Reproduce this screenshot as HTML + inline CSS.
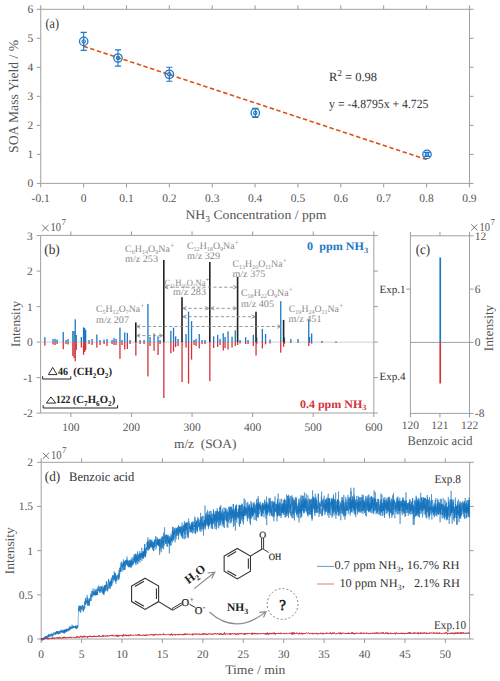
<!DOCTYPE html>
<html><head><meta charset="utf-8"><style>
html,body{margin:0;padding:0;background:#fff;width:500px;height:681px;overflow:hidden}
svg{display:block;font-family:"Liberation Serif", serif;text-rendering:geometricPrecision}
</style></head><body>
<svg width="500" height="681" viewBox="0 0 500 681">
<rect width="500" height="681" fill="#fff"/>
<path d="M40.75 9.3H469.5V183.4H40.75Z" fill="none" stroke="#a0a0a0" stroke-width="1"/>
<line x1="40.73" y1="183.40" x2="40.73" y2="187.40" stroke="#9a9a9a" stroke-width="1" />
<line x1="40.73" y1="9.30" x2="40.73" y2="5.30" stroke="#9a9a9a" stroke-width="1" />
<text x="40.73" y="202.20" font-size="11.5" text-anchor="middle" fill="#555555" font-weight="normal" >-0.1</text>
<line x1="83.60" y1="183.40" x2="83.60" y2="187.40" stroke="#9a9a9a" stroke-width="1" />
<line x1="83.60" y1="9.30" x2="83.60" y2="5.30" stroke="#9a9a9a" stroke-width="1" />
<text x="83.60" y="202.20" font-size="11.5" text-anchor="middle" fill="#555555" font-weight="normal" >0</text>
<line x1="126.47" y1="183.40" x2="126.47" y2="187.40" stroke="#9a9a9a" stroke-width="1" />
<line x1="126.47" y1="9.30" x2="126.47" y2="5.30" stroke="#9a9a9a" stroke-width="1" />
<text x="126.47" y="202.20" font-size="11.5" text-anchor="middle" fill="#555555" font-weight="normal" >0.1</text>
<line x1="169.34" y1="183.40" x2="169.34" y2="187.40" stroke="#9a9a9a" stroke-width="1" />
<line x1="169.34" y1="9.30" x2="169.34" y2="5.30" stroke="#9a9a9a" stroke-width="1" />
<text x="169.34" y="202.20" font-size="11.5" text-anchor="middle" fill="#555555" font-weight="normal" >0.2</text>
<line x1="212.21" y1="183.40" x2="212.21" y2="187.40" stroke="#9a9a9a" stroke-width="1" />
<line x1="212.21" y1="9.30" x2="212.21" y2="5.30" stroke="#9a9a9a" stroke-width="1" />
<text x="212.21" y="202.20" font-size="11.5" text-anchor="middle" fill="#555555" font-weight="normal" >0.3</text>
<line x1="255.08" y1="183.40" x2="255.08" y2="187.40" stroke="#9a9a9a" stroke-width="1" />
<line x1="255.08" y1="9.30" x2="255.08" y2="5.30" stroke="#9a9a9a" stroke-width="1" />
<text x="255.08" y="202.20" font-size="11.5" text-anchor="middle" fill="#555555" font-weight="normal" >0.4</text>
<line x1="297.95" y1="183.40" x2="297.95" y2="187.40" stroke="#9a9a9a" stroke-width="1" />
<line x1="297.95" y1="9.30" x2="297.95" y2="5.30" stroke="#9a9a9a" stroke-width="1" />
<text x="297.95" y="202.20" font-size="11.5" text-anchor="middle" fill="#555555" font-weight="normal" >0.5</text>
<line x1="340.82" y1="183.40" x2="340.82" y2="187.40" stroke="#9a9a9a" stroke-width="1" />
<line x1="340.82" y1="9.30" x2="340.82" y2="5.30" stroke="#9a9a9a" stroke-width="1" />
<text x="340.82" y="202.20" font-size="11.5" text-anchor="middle" fill="#555555" font-weight="normal" >0.6</text>
<line x1="383.69" y1="183.40" x2="383.69" y2="187.40" stroke="#9a9a9a" stroke-width="1" />
<line x1="383.69" y1="9.30" x2="383.69" y2="5.30" stroke="#9a9a9a" stroke-width="1" />
<text x="383.69" y="202.20" font-size="11.5" text-anchor="middle" fill="#555555" font-weight="normal" >0.7</text>
<line x1="426.56" y1="183.40" x2="426.56" y2="187.40" stroke="#9a9a9a" stroke-width="1" />
<line x1="426.56" y1="9.30" x2="426.56" y2="5.30" stroke="#9a9a9a" stroke-width="1" />
<text x="426.56" y="202.20" font-size="11.5" text-anchor="middle" fill="#555555" font-weight="normal" >0.8</text>
<line x1="469.43" y1="183.40" x2="469.43" y2="187.40" stroke="#9a9a9a" stroke-width="1" />
<line x1="469.43" y1="9.30" x2="469.43" y2="5.30" stroke="#9a9a9a" stroke-width="1" />
<text x="469.43" y="202.20" font-size="11.5" text-anchor="middle" fill="#555555" font-weight="normal" >0.9</text>
<line x1="40.75" y1="183.40" x2="36.75" y2="183.40" stroke="#9a9a9a" stroke-width="1" />
<line x1="469.50" y1="183.40" x2="473.50" y2="183.40" stroke="#9a9a9a" stroke-width="1" />
<text x="33.20" y="187.30" font-size="11.5" text-anchor="end" fill="#555555" font-weight="normal" >0</text>
<line x1="40.75" y1="154.38" x2="36.75" y2="154.38" stroke="#9a9a9a" stroke-width="1" />
<line x1="469.50" y1="154.38" x2="473.50" y2="154.38" stroke="#9a9a9a" stroke-width="1" />
<text x="33.20" y="158.28" font-size="11.5" text-anchor="end" fill="#555555" font-weight="normal" >1</text>
<line x1="40.75" y1="125.36" x2="36.75" y2="125.36" stroke="#9a9a9a" stroke-width="1" />
<line x1="469.50" y1="125.36" x2="473.50" y2="125.36" stroke="#9a9a9a" stroke-width="1" />
<text x="33.20" y="129.26" font-size="11.5" text-anchor="end" fill="#555555" font-weight="normal" >2</text>
<line x1="40.75" y1="96.34" x2="36.75" y2="96.34" stroke="#9a9a9a" stroke-width="1" />
<line x1="469.50" y1="96.34" x2="473.50" y2="96.34" stroke="#9a9a9a" stroke-width="1" />
<text x="33.20" y="100.24" font-size="11.5" text-anchor="end" fill="#555555" font-weight="normal" >3</text>
<line x1="40.75" y1="67.32" x2="36.75" y2="67.32" stroke="#9a9a9a" stroke-width="1" />
<line x1="469.50" y1="67.32" x2="473.50" y2="67.32" stroke="#9a9a9a" stroke-width="1" />
<text x="33.20" y="71.22" font-size="11.5" text-anchor="end" fill="#555555" font-weight="normal" >4</text>
<line x1="40.75" y1="38.30" x2="36.75" y2="38.30" stroke="#9a9a9a" stroke-width="1" />
<line x1="469.50" y1="38.30" x2="473.50" y2="38.30" stroke="#9a9a9a" stroke-width="1" />
<text x="33.20" y="42.20" font-size="11.5" text-anchor="end" fill="#555555" font-weight="normal" >5</text>
<line x1="40.75" y1="9.28" x2="36.75" y2="9.28" stroke="#9a9a9a" stroke-width="1" />
<line x1="469.50" y1="9.28" x2="473.50" y2="9.28" stroke="#9a9a9a" stroke-width="1" />
<text x="33.20" y="13.18" font-size="11.5" text-anchor="end" fill="#555555" font-weight="normal" >6</text>
<text x="0.00" y="0.00" font-size="13.6" text-anchor="middle" fill="#555555" font-weight="normal" transform="translate(17.6,96.4) rotate(-90)" textLength="113" lengthAdjust="spacingAndGlyphs">SOA Mass Yield / %</text>
<text x="185.4" y="218.6" font-size="13" fill="#555555" textLength="141" lengthAdjust="spacingAndGlyphs">NH<tspan font-size="9" dy="3.8">3</tspan><tspan dy="-3.8"> Concentration / ppm</tspan></text>
<text x="45.60" y="27.90" font-size="14" text-anchor="start" fill="#333333" font-weight="normal" textLength="13.4" lengthAdjust="spacingAndGlyphs">(a)</text>
<text x="329.1" y="81.4" font-size="12.5" fill="#333333">R<tspan font-size="9" dy="-5.5">2</tspan><tspan dy="5.5"> = 0.98</tspan></text>
<text x="329.10" y="108.00" font-size="12.5" text-anchor="start" fill="#333333" font-weight="normal" textLength="99.4" lengthAdjust="spacingAndGlyphs">y = -4.8795x + 4.725</text>
<line x1="83.60" y1="46.28" x2="426.56" y2="159.56" stroke="#d95319" stroke-width="1.6" stroke-dasharray="4.4 2.6"/>
<g stroke="#1f77c4" fill="none" stroke-width="1.1"><path d="M83.7 32.4V50.4M80.60000000000001 32.4H86.8M80.60000000000001 50.4H86.8"/><circle cx="83.7" cy="41.4" r="4.2" stroke-width="1.3"/><circle cx="83.7" cy="41.4" r="1.7"/></g>
<g stroke="#1f77c4" fill="none" stroke-width="1.1"><path d="M118.0 49.9V66.1M114.9 49.9H121.1M114.9 66.1H121.1"/><circle cx="118.0" cy="58.0" r="4.2" stroke-width="1.3"/><circle cx="118.0" cy="58.0" r="1.7"/></g>
<g stroke="#1f77c4" fill="none" stroke-width="1.1"><path d="M169.3 67.3V81.3M166.20000000000002 67.3H172.4M166.20000000000002 81.3H172.4"/><circle cx="169.3" cy="74.3" r="4.2" stroke-width="1.3"/><circle cx="169.3" cy="74.3" r="1.7"/></g>
<g stroke="#1f77c4" fill="none" stroke-width="1.1"><path d="M255.3 108.4V117.4M252.20000000000002 108.4H258.40000000000003M252.20000000000002 117.4H258.40000000000003"/><circle cx="255.3" cy="112.9" r="4.2" stroke-width="1.3"/><circle cx="255.3" cy="112.9" r="1.7"/></g>
<g stroke="#1f77c4" fill="none" stroke-width="1.1"><path d="M427.0 152.4V156.4M423.9 152.4H430.1M423.9 156.4H430.1"/><circle cx="427.0" cy="154.4" r="4.2" stroke-width="1.3"/><circle cx="427.0" cy="154.4" r="1.7"/></g>
<path d="M40.6 235.4H373.8V413.0H40.6Z" fill="none" stroke="#a0a0a0" stroke-width="1"/>
<line x1="70.89" y1="413.00" x2="70.89" y2="417.00" stroke="#9a9a9a" stroke-width="1" />
<line x1="70.89" y1="235.40" x2="70.89" y2="231.40" stroke="#9a9a9a" stroke-width="1" />
<text x="70.89" y="431.20" font-size="11.5" text-anchor="middle" fill="#555555" font-weight="normal" >100</text>
<line x1="131.47" y1="413.00" x2="131.47" y2="417.00" stroke="#9a9a9a" stroke-width="1" />
<line x1="131.47" y1="235.40" x2="131.47" y2="231.40" stroke="#9a9a9a" stroke-width="1" />
<text x="131.47" y="431.20" font-size="11.5" text-anchor="middle" fill="#555555" font-weight="normal" >200</text>
<line x1="192.05" y1="413.00" x2="192.05" y2="417.00" stroke="#9a9a9a" stroke-width="1" />
<line x1="192.05" y1="235.40" x2="192.05" y2="231.40" stroke="#9a9a9a" stroke-width="1" />
<text x="192.05" y="431.20" font-size="11.5" text-anchor="middle" fill="#555555" font-weight="normal" >300</text>
<line x1="252.64" y1="413.00" x2="252.64" y2="417.00" stroke="#9a9a9a" stroke-width="1" />
<line x1="252.64" y1="235.40" x2="252.64" y2="231.40" stroke="#9a9a9a" stroke-width="1" />
<text x="252.64" y="431.20" font-size="11.5" text-anchor="middle" fill="#555555" font-weight="normal" >400</text>
<line x1="313.22" y1="413.00" x2="313.22" y2="417.00" stroke="#9a9a9a" stroke-width="1" />
<line x1="313.22" y1="235.40" x2="313.22" y2="231.40" stroke="#9a9a9a" stroke-width="1" />
<text x="313.22" y="431.20" font-size="11.5" text-anchor="middle" fill="#555555" font-weight="normal" >500</text>
<line x1="373.80" y1="413.00" x2="373.80" y2="417.00" stroke="#9a9a9a" stroke-width="1" />
<line x1="373.80" y1="235.40" x2="373.80" y2="231.40" stroke="#9a9a9a" stroke-width="1" />
<text x="373.80" y="431.20" font-size="11.5" text-anchor="middle" fill="#555555" font-weight="normal" >600</text>
<line x1="40.60" y1="413.10" x2="36.60" y2="413.10" stroke="#9a9a9a" stroke-width="1" />
<line x1="373.80" y1="413.10" x2="377.80" y2="413.10" stroke="#9a9a9a" stroke-width="1" />
<text x="32.80" y="417.00" font-size="11.5" text-anchor="end" fill="#555555" font-weight="normal" >-2</text>
<line x1="40.60" y1="377.60" x2="36.60" y2="377.60" stroke="#9a9a9a" stroke-width="1" />
<line x1="373.80" y1="377.60" x2="377.80" y2="377.60" stroke="#9a9a9a" stroke-width="1" />
<text x="32.80" y="381.50" font-size="11.5" text-anchor="end" fill="#555555" font-weight="normal" >-1</text>
<line x1="40.60" y1="342.10" x2="36.60" y2="342.10" stroke="#9a9a9a" stroke-width="1" />
<line x1="373.80" y1="342.10" x2="377.80" y2="342.10" stroke="#9a9a9a" stroke-width="1" />
<text x="32.80" y="346.00" font-size="11.5" text-anchor="end" fill="#555555" font-weight="normal" >0</text>
<line x1="40.60" y1="306.60" x2="36.60" y2="306.60" stroke="#9a9a9a" stroke-width="1" />
<line x1="373.80" y1="306.60" x2="377.80" y2="306.60" stroke="#9a9a9a" stroke-width="1" />
<text x="32.80" y="310.50" font-size="11.5" text-anchor="end" fill="#555555" font-weight="normal" >1</text>
<line x1="40.60" y1="271.10" x2="36.60" y2="271.10" stroke="#9a9a9a" stroke-width="1" />
<line x1="373.80" y1="271.10" x2="377.80" y2="271.10" stroke="#9a9a9a" stroke-width="1" />
<text x="32.80" y="275.00" font-size="11.5" text-anchor="end" fill="#555555" font-weight="normal" >2</text>
<line x1="40.60" y1="235.60" x2="36.60" y2="235.60" stroke="#9a9a9a" stroke-width="1" />
<line x1="373.80" y1="235.60" x2="377.80" y2="235.60" stroke="#9a9a9a" stroke-width="1" />
<text x="32.80" y="239.50" font-size="11.5" text-anchor="end" fill="#555555" font-weight="normal" >3</text>
<path d="M42.3 225.0L48.5 231.0M48.5 225.0L42.3 231.0" stroke="#555555" stroke-width="0.8"/><text x="50.599999999999994" y="231.3" font-size="12" fill="#555555" textLength="10.5" lengthAdjust="spacingAndGlyphs">10</text><text x="61.599999999999994" y="225.2" font-size="9" fill="#555555">7</text>
<text x="0.00" y="0.00" font-size="13" text-anchor="middle" fill="#555555" font-weight="normal" transform="translate(20.3,324) rotate(-90)" textLength="46" lengthAdjust="spacingAndGlyphs">Intensity</text>
<text x="174.00" y="448.00" font-size="13" text-anchor="start" fill="#555555" font-weight="normal" textLength="62.4" lengthAdjust="spacingAndGlyphs">m/z&#160;&#160;(SOA)</text>
<text x="44.20" y="253.80" font-size="14" text-anchor="start" fill="#333333" font-weight="normal" textLength="15.6" lengthAdjust="spacingAndGlyphs">(b)</text>
<line x1="40.60" y1="342.10" x2="373.80" y2="342.10" stroke="#c0c4cc" stroke-width="0.8" />
<rect x="44.20" y="337.20" width="1.3" height="4.90" fill="#1f77c4"/>
<rect x="44.20" y="342.1" width="1.3" height="3.60" fill="#d3343c"/>
<rect x="52.40" y="339.00" width="1.3" height="3.10" fill="#1f77c4"/>
<rect x="52.40" y="342.1" width="1.3" height="2.40" fill="#d3343c"/>
<rect x="54.40" y="338.80" width="1.3" height="3.30" fill="#1f77c4"/>
<rect x="54.40" y="342.1" width="1.3" height="2.90" fill="#d3343c"/>
<rect x="56.40" y="339.50" width="1.3" height="2.60" fill="#1f77c4"/>
<rect x="56.40" y="342.1" width="1.3" height="1.90" fill="#d3343c"/>
<rect x="62.60" y="331.90" width="1.3" height="10.20" fill="#1f77c4"/>
<rect x="62.60" y="342.1" width="1.3" height="7.10" fill="#d3343c"/>
<rect x="65.40" y="340.00" width="1.3" height="2.10" fill="#1f77c4"/>
<rect x="65.40" y="342.1" width="1.3" height="1.90" fill="#d3343c"/>
<rect x="67.40" y="339.00" width="1.3" height="3.10" fill="#1f77c4"/>
<rect x="67.40" y="342.1" width="1.3" height="2.40" fill="#d3343c"/>
<rect x="72.20" y="331.00" width="1.3" height="11.10" fill="#1f77c4"/>
<rect x="72.20" y="342.1" width="1.3" height="13.90" fill="#d3343c"/>
<rect x="73.40" y="331.00" width="1.3" height="11.10" fill="#1f77c4"/>
<rect x="73.40" y="342.1" width="1.3" height="15.90" fill="#d3343c"/>
<rect x="74.60" y="319.30" width="1.3" height="22.80" fill="#1f77c4"/>
<rect x="74.60" y="342.1" width="1.3" height="19.10" fill="#d3343c"/>
<rect x="75.60" y="335.00" width="1.3" height="7.10" fill="#1f77c4"/>
<rect x="75.60" y="342.1" width="1.3" height="7.90" fill="#d3343c"/>
<rect x="80.70" y="337.00" width="1.3" height="5.10" fill="#1f77c4"/>
<rect x="80.70" y="342.1" width="1.3" height="5.50" fill="#d3343c"/>
<rect x="82.90" y="327.30" width="1.3" height="14.80" fill="#1f77c4"/>
<rect x="82.90" y="342.1" width="1.3" height="12.70" fill="#d3343c"/>
<rect x="84.00" y="328.00" width="1.3" height="14.10" fill="#1f77c4"/>
<rect x="84.00" y="342.1" width="1.3" height="9.90" fill="#d3343c"/>
<rect x="85.00" y="330.00" width="1.3" height="12.10" fill="#1f77c4"/>
<rect x="85.00" y="342.1" width="1.3" height="7.90" fill="#d3343c"/>
<rect x="88.40" y="340.00" width="1.3" height="2.10" fill="#1f77c4"/>
<rect x="88.40" y="342.1" width="1.3" height="1.90" fill="#d3343c"/>
<rect x="91.40" y="339.00" width="1.3" height="3.10" fill="#1f77c4"/>
<rect x="91.40" y="342.1" width="1.3" height="2.90" fill="#d3343c"/>
<rect x="96.20" y="334.50" width="1.3" height="7.60" fill="#1f77c4"/>
<rect x="96.20" y="342.1" width="1.3" height="5.50" fill="#d3343c"/>
<rect x="99.40" y="340.00" width="1.3" height="2.10" fill="#1f77c4"/>
<rect x="99.40" y="342.1" width="1.3" height="2.90" fill="#d3343c"/>
<rect x="103.40" y="339.50" width="1.3" height="2.60" fill="#1f77c4"/>
<rect x="103.40" y="342.1" width="1.3" height="1.90" fill="#d3343c"/>
<rect x="106.40" y="339.00" width="1.3" height="3.10" fill="#1f77c4"/>
<rect x="106.40" y="342.1" width="1.3" height="3.90" fill="#d3343c"/>
<rect x="111.40" y="340.00" width="1.3" height="2.10" fill="#1f77c4"/>
<rect x="111.40" y="342.1" width="1.3" height="1.90" fill="#d3343c"/>
<rect x="113.40" y="338.00" width="1.3" height="4.10" fill="#1f77c4"/>
<rect x="113.40" y="342.1" width="1.3" height="2.90" fill="#d3343c"/>
<rect x="115.40" y="339.00" width="1.3" height="3.10" fill="#1f77c4"/>
<rect x="115.40" y="342.1" width="1.3" height="2.90" fill="#d3343c"/>
<rect x="119.30" y="327.60" width="1.3" height="14.50" fill="#1f77c4"/>
<rect x="119.30" y="342.1" width="1.3" height="16.70" fill="#d3343c"/>
<rect x="121.40" y="340.00" width="1.3" height="2.10" fill="#1f77c4"/>
<rect x="121.40" y="342.1" width="1.3" height="2.90" fill="#d3343c"/>
<rect x="124.10" y="332.40" width="1.3" height="9.70" fill="#1f77c4"/>
<rect x="124.10" y="342.1" width="1.3" height="7.40" fill="#d3343c"/>
<rect x="126.70" y="332.90" width="1.3" height="9.20" fill="#1f77c4"/>
<rect x="126.70" y="342.1" width="1.3" height="6.90" fill="#d3343c"/>
<rect x="129.40" y="340.00" width="1.3" height="2.10" fill="#1f77c4"/>
<rect x="129.40" y="342.1" width="1.3" height="1.90" fill="#d3343c"/>
<rect x="139.40" y="340.00" width="1.3" height="2.10" fill="#1f77c4"/>
<rect x="139.40" y="342.1" width="1.3" height="1.90" fill="#d3343c"/>
<rect x="143.40" y="340.00" width="1.3" height="2.10" fill="#1f77c4"/>
<rect x="143.40" y="342.1" width="1.3" height="1.90" fill="#d3343c"/>
<rect x="147.30" y="303.90" width="1.3" height="38.20" fill="#1f77c4"/>
<rect x="147.30" y="342.1" width="1.3" height="34.30" fill="#d3343c"/>
<rect x="149.40" y="337.00" width="1.3" height="5.10" fill="#1f77c4"/>
<rect x="149.40" y="342.1" width="1.3" height="3.90" fill="#d3343c"/>
<rect x="153.40" y="333.50" width="1.3" height="8.60" fill="#1f77c4"/>
<rect x="153.40" y="342.1" width="1.3" height="8.70" fill="#d3343c"/>
<rect x="157.40" y="336.40" width="1.3" height="5.70" fill="#1f77c4"/>
<rect x="157.40" y="342.1" width="1.3" height="12.90" fill="#d3343c"/>
<rect x="159.40" y="340.00" width="1.3" height="2.10" fill="#1f77c4"/>
<rect x="159.40" y="342.1" width="1.3" height="1.90" fill="#d3343c"/>
<rect x="170.20" y="330.80" width="1.3" height="11.30" fill="#1f77c4"/>
<rect x="170.20" y="342.1" width="1.3" height="11.10" fill="#d3343c"/>
<rect x="172.90" y="327.60" width="1.3" height="14.50" fill="#1f77c4"/>
<rect x="172.90" y="342.1" width="1.3" height="9.50" fill="#d3343c"/>
<rect x="175.00" y="336.40" width="1.3" height="5.70" fill="#1f77c4"/>
<rect x="175.00" y="342.1" width="1.3" height="4.90" fill="#d3343c"/>
<rect x="177.40" y="339.00" width="1.3" height="3.10" fill="#1f77c4"/>
<rect x="177.40" y="342.1" width="1.3" height="3.90" fill="#d3343c"/>
<rect x="185.40" y="334.00" width="1.3" height="8.10" fill="#1f77c4"/>
<rect x="185.40" y="342.1" width="1.3" height="5.50" fill="#d3343c"/>
<rect x="187.90" y="311.60" width="1.3" height="30.50" fill="#1f77c4"/>
<rect x="187.90" y="342.1" width="1.3" height="41.50" fill="#d3343c"/>
<rect x="190.90" y="321.20" width="1.3" height="20.90" fill="#1f77c4"/>
<rect x="190.90" y="342.1" width="1.3" height="17.50" fill="#d3343c"/>
<rect x="193.40" y="340.00" width="1.3" height="2.10" fill="#1f77c4"/>
<rect x="193.40" y="342.1" width="1.3" height="2.90" fill="#d3343c"/>
<rect x="195.40" y="338.80" width="1.3" height="3.30" fill="#1f77c4"/>
<rect x="195.40" y="342.1" width="1.3" height="3.90" fill="#d3343c"/>
<rect x="198.60" y="334.00" width="1.3" height="8.10" fill="#1f77c4"/>
<rect x="198.60" y="342.1" width="1.3" height="6.30" fill="#d3343c"/>
<rect x="201.40" y="340.00" width="1.3" height="2.10" fill="#1f77c4"/>
<rect x="201.40" y="342.1" width="1.3" height="1.90" fill="#d3343c"/>
<rect x="204.40" y="340.00" width="1.3" height="2.10" fill="#1f77c4"/>
<rect x="204.40" y="342.1" width="1.3" height="1.90" fill="#d3343c"/>
<rect x="213.00" y="336.40" width="1.3" height="5.70" fill="#1f77c4"/>
<rect x="213.00" y="342.1" width="1.3" height="5.90" fill="#d3343c"/>
<rect x="217.00" y="334.80" width="1.3" height="7.30" fill="#1f77c4"/>
<rect x="217.00" y="342.1" width="1.3" height="4.90" fill="#d3343c"/>
<rect x="219.40" y="339.00" width="1.3" height="3.10" fill="#1f77c4"/>
<rect x="219.40" y="342.1" width="1.3" height="2.90" fill="#d3343c"/>
<rect x="222.60" y="333.20" width="1.3" height="8.90" fill="#1f77c4"/>
<rect x="222.60" y="342.1" width="1.3" height="8.40" fill="#d3343c"/>
<rect x="224.40" y="337.00" width="1.3" height="5.10" fill="#1f77c4"/>
<rect x="224.40" y="342.1" width="1.3" height="5.90" fill="#d3343c"/>
<rect x="227.40" y="331.30" width="1.3" height="10.80" fill="#1f77c4"/>
<rect x="227.40" y="342.1" width="1.3" height="7.40" fill="#d3343c"/>
<rect x="231.40" y="336.70" width="1.3" height="5.40" fill="#1f77c4"/>
<rect x="231.40" y="342.1" width="1.3" height="5.50" fill="#d3343c"/>
<rect x="234.60" y="330.30" width="1.3" height="11.80" fill="#1f77c4"/>
<rect x="234.60" y="342.1" width="1.3" height="3.90" fill="#d3343c"/>
<rect x="239.40" y="340.00" width="1.3" height="2.10" fill="#1f77c4"/>
<rect x="239.40" y="342.1" width="1.3" height="1.40" fill="#d3343c"/>
<rect x="245.00" y="337.20" width="1.3" height="4.90" fill="#1f77c4"/>
<rect x="245.00" y="342.1" width="1.3" height="1.90" fill="#d3343c"/>
<rect x="247.40" y="340.00" width="1.3" height="2.10" fill="#1f77c4"/>
<rect x="247.40" y="342.1" width="1.3" height="1.90" fill="#d3343c"/>
<rect x="252.70" y="334.80" width="1.3" height="7.30" fill="#1f77c4"/>
<rect x="252.70" y="342.1" width="1.3" height="3.90" fill="#d3343c"/>
<rect x="256.10" y="337.50" width="1.3" height="4.60" fill="#1f77c4"/>
<rect x="256.10" y="342.1" width="1.3" height="1.90" fill="#d3343c"/>
<rect x="261.70" y="328.90" width="1.3" height="13.20" fill="#1f77c4"/>
<rect x="261.70" y="342.1" width="1.3" height="6.30" fill="#d3343c"/>
<rect x="264.90" y="334.00" width="1.3" height="8.10" fill="#1f77c4"/>
<rect x="264.90" y="342.1" width="1.3" height="2.30" fill="#d3343c"/>
<rect x="269.40" y="339.50" width="1.3" height="2.60" fill="#1f77c4"/>
<rect x="269.40" y="342.1" width="1.3" height="1.40" fill="#d3343c"/>
<rect x="280.10" y="301.20" width="1.3" height="40.90" fill="#1f77c4"/>
<rect x="280.10" y="342.1" width="1.3" height="10.60" fill="#d3343c"/>
<rect x="283.80" y="337.50" width="1.3" height="4.60" fill="#1f77c4"/>
<rect x="283.80" y="342.1" width="1.3" height="1.90" fill="#d3343c"/>
<rect x="290.20" y="339.00" width="1.3" height="3.10" fill="#1f77c4"/>
<rect x="290.20" y="342.1" width="1.3" height="0.90" fill="#d3343c"/>
<rect x="297.40" y="339.00" width="1.3" height="3.10" fill="#1f77c4"/>
<rect x="297.40" y="342.1" width="1.3" height="0.90" fill="#d3343c"/>
<rect x="308.10" y="319.30" width="1.3" height="22.80" fill="#1f77c4"/>
<rect x="308.10" y="342.1" width="1.3" height="3.90" fill="#d3343c"/>
<rect x="308.90" y="337.00" width="1.3" height="5.10" fill="#1f77c4"/>
<rect x="308.90" y="342.1" width="1.3" height="0.90" fill="#d3343c"/>
<rect x="311.00" y="333.50" width="1.3" height="8.60" fill="#1f77c4"/>
<rect x="311.00" y="342.1" width="1.3" height="1.50" fill="#d3343c"/>
<rect x="321.40" y="341.00" width="1.3" height="1.10" fill="#1f77c4"/>
<rect x="321.40" y="342.1" width="1.3" height="0.90" fill="#d3343c"/>
<rect x="335.40" y="341.50" width="1.3" height="0.60" fill="#1f77c4"/>
<rect x="335.40" y="342.1" width="1.3" height="0.90" fill="#d3343c"/>
<rect x="135.20" y="342.1" width="1.3" height="13.50" fill="#d3343c"/>
<rect x="135.00" y="322.40" width="1.6" height="19.70" fill="#222"/>
<rect x="163.20" y="342.1" width="1.3" height="55.90" fill="#d3343c"/>
<rect x="163.00" y="260.00" width="1.6" height="82.10" fill="#222"/>
<rect x="181.40" y="342.1" width="1.3" height="39.90" fill="#d3343c"/>
<rect x="181.20" y="297.20" width="1.6" height="44.90" fill="#222"/>
<rect x="209.20" y="342.1" width="1.3" height="39.10" fill="#d3343c"/>
<rect x="209.00" y="262.00" width="1.6" height="80.10" fill="#222"/>
<rect x="237.00" y="342.1" width="1.3" height="2.90" fill="#d3343c"/>
<rect x="236.80" y="277.00" width="1.6" height="65.10" fill="#222"/>
<rect x="255.40" y="342.1" width="1.3" height="13.50" fill="#d3343c"/>
<rect x="255.20" y="311.70" width="1.6" height="30.40" fill="#222"/>
<rect x="283.00" y="342.1" width="1.3" height="4.70" fill="#d3343c"/>
<rect x="282.80" y="319.90" width="1.6" height="22.20" fill="#222"/>
<line x1="164.80" y1="287.2" x2="236.60" y2="287.2" stroke="#8c8c8c" stroke-width="0.9" stroke-dasharray="3.2 2.2"/>
<path d="M168.30 285.4L164.80 287.2L168.30 289.0" fill="none" stroke="#8c8c8c" stroke-width="0.9"/>
<path d="M233.10 285.4L236.60 287.2L233.10 289.0" fill="none" stroke="#8c8c8c" stroke-width="0.9"/>
<line x1="183.00" y1="308.3" x2="208.80" y2="308.3" stroke="#8c8c8c" stroke-width="0.9" stroke-dasharray="3.2 2.2"/>
<path d="M186.50 306.5L183.00 308.3L186.50 310.1" fill="none" stroke="#8c8c8c" stroke-width="0.9"/>
<path d="M205.30 306.5L208.80 308.3L205.30 310.1" fill="none" stroke="#8c8c8c" stroke-width="0.9"/>
<line x1="210.80" y1="308.3" x2="236.60" y2="308.3" stroke="#8c8c8c" stroke-width="0.9" stroke-dasharray="3.2 2.2"/>
<path d="M214.30 306.5L210.80 308.3L214.30 310.1" fill="none" stroke="#8c8c8c" stroke-width="0.9"/>
<path d="M233.10 306.5L236.60 308.3L233.10 310.1" fill="none" stroke="#8c8c8c" stroke-width="0.9"/>
<line x1="183.00" y1="316.7" x2="255.00" y2="316.7" stroke="#8c8c8c" stroke-width="0.9" stroke-dasharray="3.2 2.2"/>
<path d="M186.50 314.9L183.00 316.7L186.50 318.5" fill="none" stroke="#8c8c8c" stroke-width="0.9"/>
<path d="M251.50 314.9L255.00 316.7L251.50 318.5" fill="none" stroke="#8c8c8c" stroke-width="0.9"/>
<line x1="136.80" y1="326.5" x2="281.00" y2="326.5" stroke="#8c8c8c" stroke-width="0.9" stroke-dasharray="3.2 2.2"/>
<path d="M140.30 324.7L136.80 326.5L140.30 328.3" fill="none" stroke="#8c8c8c" stroke-width="0.9"/>
<path d="M277.50 324.7L281.00 326.5L277.50 328.3" fill="none" stroke="#8c8c8c" stroke-width="0.9"/>
<line x1="136.80" y1="335.6" x2="162.80" y2="335.6" stroke="#8c8c8c" stroke-width="0.9" stroke-dasharray="3.2 2.2"/>
<path d="M140.30 333.8L136.80 335.6L140.30 337.40000000000003" fill="none" stroke="#8c8c8c" stroke-width="0.9"/>
<path d="M159.30 333.8L162.80 335.6L159.30 337.40000000000003" fill="none" stroke="#8c8c8c" stroke-width="0.9"/>
<text x="96" y="312" font-size="10" fill="#8a8a8a" textLength="48.6" lengthAdjust="spacingAndGlyphs"><tspan font-size="10.0" dy="0.00">C</tspan><tspan font-size="6.2" dy="2.20">5</tspan><tspan font-size="10.0" dy="-2.20">H</tspan><tspan font-size="6.2" dy="2.20">12</tspan><tspan font-size="10.0" dy="-2.20">O</tspan><tspan font-size="6.2" dy="2.20">7</tspan><tspan font-size="10.0" dy="-2.20">Na</tspan><tspan font-size="8.0" dy="-3.60">+</tspan></text>
<text x="96.00" y="322.80" font-size="10" text-anchor="start" fill="#8a8a8a" font-weight="normal" textLength="33" lengthAdjust="spacingAndGlyphs">m/z 207</text>
<text x="125" y="252" font-size="10" fill="#8a8a8a" textLength="49.4" lengthAdjust="spacingAndGlyphs"><tspan font-size="10.0" dy="0.00">C</tspan><tspan font-size="6.2" dy="2.20">6</tspan><tspan font-size="10.0" dy="-2.20">H</tspan><tspan font-size="6.2" dy="2.20">14</tspan><tspan font-size="10.0" dy="-2.20">O</tspan><tspan font-size="6.2" dy="2.20">9</tspan><tspan font-size="10.0" dy="-2.20">Na</tspan><tspan font-size="8.0" dy="-3.60">+</tspan></text>
<text x="125.00" y="262.00" font-size="10" text-anchor="start" fill="#8a8a8a" font-weight="normal" textLength="33" lengthAdjust="spacingAndGlyphs">m/z 253</text>
<text x="187" y="249" font-size="10" fill="#8a8a8a" textLength="52" lengthAdjust="spacingAndGlyphs"><tspan font-size="10.0" dy="0.00">C</tspan><tspan font-size="6.2" dy="2.20">12</tspan><tspan font-size="10.0" dy="-2.20">H</tspan><tspan font-size="6.2" dy="2.20">18</tspan><tspan font-size="10.0" dy="-2.20">O</tspan><tspan font-size="6.2" dy="2.20">9</tspan><tspan font-size="10.0" dy="-2.20">Na</tspan><tspan font-size="8.0" dy="-3.60">+</tspan></text>
<text x="187.00" y="259.40" font-size="10" text-anchor="start" fill="#8a8a8a" font-weight="normal" textLength="33" lengthAdjust="spacingAndGlyphs">m/z 329</text>
<text x="164.4" y="286" font-size="9.5" fill="#8a8a8a" textLength="45" lengthAdjust="spacingAndGlyphs"><tspan font-size="9.5" dy="0.00">C</tspan><tspan font-size="5.9" dy="2.20">11</tspan><tspan font-size="9.5" dy="-2.20">H</tspan><tspan font-size="5.9" dy="2.20">16</tspan><tspan font-size="9.5" dy="-2.20">O</tspan><tspan font-size="5.9" dy="2.20">7</tspan><tspan font-size="9.5" dy="-2.20">Na</tspan><tspan font-size="7.6" dy="-3.60">+</tspan></text>
<text x="173.00" y="294.60" font-size="10" text-anchor="start" fill="#8a8a8a" font-weight="normal" textLength="33" lengthAdjust="spacingAndGlyphs">m/z 283</text>
<text x="232.4" y="267" font-size="10" fill="#8a8a8a" textLength="54.6" lengthAdjust="spacingAndGlyphs"><tspan font-size="10.0" dy="0.00">C</tspan><tspan font-size="6.2" dy="2.20">13</tspan><tspan font-size="10.0" dy="-2.20">H</tspan><tspan font-size="6.2" dy="2.20">20</tspan><tspan font-size="10.0" dy="-2.20">O</tspan><tspan font-size="6.2" dy="2.20">11</tspan><tspan font-size="10.0" dy="-2.20">Na</tspan><tspan font-size="8.0" dy="-3.60">+</tspan></text>
<text x="232.40" y="277.00" font-size="10" text-anchor="start" fill="#8a8a8a" font-weight="normal" textLength="33" lengthAdjust="spacingAndGlyphs">m/z 375</text>
<text x="241" y="296" font-size="10" fill="#8a8a8a" textLength="52" lengthAdjust="spacingAndGlyphs"><tspan font-size="10.0" dy="0.00">C</tspan><tspan font-size="6.2" dy="2.20">18</tspan><tspan font-size="10.0" dy="-2.20">H</tspan><tspan font-size="6.2" dy="2.20">22</tspan><tspan font-size="10.0" dy="-2.20">O</tspan><tspan font-size="6.2" dy="2.20">9</tspan><tspan font-size="10.0" dy="-2.20">Na</tspan><tspan font-size="8.0" dy="-3.60">+</tspan></text>
<text x="241.00" y="307.00" font-size="10" text-anchor="start" fill="#8a8a8a" font-weight="normal" textLength="33" lengthAdjust="spacingAndGlyphs">m/z 405</text>
<text x="288.8" y="311.5" font-size="10" fill="#8a8a8a" textLength="54.5" lengthAdjust="spacingAndGlyphs"><tspan font-size="10.0" dy="0.00">C</tspan><tspan font-size="6.2" dy="2.20">19</tspan><tspan font-size="10.0" dy="-2.20">H</tspan><tspan font-size="6.2" dy="2.20">24</tspan><tspan font-size="10.0" dy="-2.20">O</tspan><tspan font-size="6.2" dy="2.20">11</tspan><tspan font-size="10.0" dy="-2.20">Na</tspan><tspan font-size="8.0" dy="-3.60">+</tspan></text>
<text x="288.50" y="321.50" font-size="10" text-anchor="start" fill="#8a8a8a" font-weight="normal" textLength="33" lengthAdjust="spacingAndGlyphs">m/z 451</text>
<text x="307.1" y="250.3" font-size="11.5" font-weight="bold" fill="#1f77c4" textLength="61" lengthAdjust="spacingAndGlyphs">0&#160;&#160;ppm NH<tspan font-size="8" dy="2.5">3</tspan></text>
<text x="299.9" y="407.5" font-size="11.5" font-weight="bold" fill="#d3343c" textLength="66.5" lengthAdjust="spacingAndGlyphs">0.4 ppm NH<tspan font-size="8" dy="2.5">3</tspan></text>
<path d="M48.4 374.6L52.70 367.4L57.0 374.6Z" fill="none" stroke="#222" stroke-width="0.95" stroke-linejoin="miter"/>
<text x="58.0" y="375.3" font-size="11" font-weight="bold" fill="#222" textLength="10" lengthAdjust="spacingAndGlyphs">46</text>
<text x="73.3" y="375.3" font-size="11" font-weight="bold" fill="#222" textLength="38.7" lengthAdjust="spacingAndGlyphs">(CH<tspan font-size="7.5" dy="2.5">2</tspan><tspan dy="-2.5">O</tspan><tspan font-size="7.5" dy="2.5">2</tspan><tspan dy="-2.5">)</tspan></text>
<path d="M42.6 376.2V379H70.8V376.2" fill="none" stroke="#222" stroke-width="1"/>
<path d="M46.4 403.1L51.00 396.9L55.6 403.1Z" fill="none" stroke="#222" stroke-width="0.95" stroke-linejoin="miter"/>
<text x="56.0" y="403.2" font-size="11" font-weight="bold" fill="#222" textLength="14.4" lengthAdjust="spacingAndGlyphs">122</text>
<text x="72.8" y="403.2" font-size="11" font-weight="bold" fill="#222" textLength="42.4" lengthAdjust="spacingAndGlyphs">(C<tspan font-size="7.5" dy="2.5">7</tspan><tspan dy="-2.5">H</tspan><tspan font-size="7.5" dy="2.5">6</tspan><tspan dy="-2.5">O</tspan><tspan font-size="7.5" dy="2.5">2</tspan><tspan dy="-2.5">)</tspan></text>
<path d="M43.2 405.2V408H117.6V405.2" fill="none" stroke="#222" stroke-width="1"/>
<path d="M410.4 235.8H469.5V413.4H410.4Z" fill="none" stroke="#a0a0a0" stroke-width="1"/>
<line x1="410.40" y1="413.40" x2="410.40" y2="417.40" stroke="#9a9a9a" stroke-width="1" />
<line x1="410.40" y1="235.80" x2="410.40" y2="231.80" stroke="#9a9a9a" stroke-width="1" />
<text x="410.40" y="429.20" font-size="11.5" text-anchor="middle" fill="#555555" font-weight="normal" >120</text>
<line x1="439.95" y1="413.40" x2="439.95" y2="417.40" stroke="#9a9a9a" stroke-width="1" />
<line x1="439.95" y1="235.80" x2="439.95" y2="231.80" stroke="#9a9a9a" stroke-width="1" />
<text x="439.95" y="429.20" font-size="11.5" text-anchor="middle" fill="#555555" font-weight="normal" >121</text>
<line x1="469.50" y1="413.40" x2="469.50" y2="417.40" stroke="#9a9a9a" stroke-width="1" />
<line x1="469.50" y1="235.80" x2="469.50" y2="231.80" stroke="#9a9a9a" stroke-width="1" />
<text x="469.50" y="429.20" font-size="11.5" text-anchor="middle" fill="#555555" font-weight="normal" >122</text>
<line x1="469.50" y1="235.84" x2="473.50" y2="235.84" stroke="#9a9a9a" stroke-width="1" />
<text x="474.80" y="239.74" font-size="11.5" text-anchor="start" fill="#555555" font-weight="normal" >12</text>
<line x1="469.50" y1="289.12" x2="473.50" y2="289.12" stroke="#9a9a9a" stroke-width="1" />
<text x="474.80" y="293.02" font-size="11.5" text-anchor="start" fill="#555555" font-weight="normal" >6</text>
<line x1="469.50" y1="342.40" x2="473.50" y2="342.40" stroke="#9a9a9a" stroke-width="1" />
<text x="474.80" y="346.30" font-size="11.5" text-anchor="start" fill="#555555" font-weight="normal" >0</text>
<line x1="469.50" y1="413.44" x2="473.50" y2="413.44" stroke="#9a9a9a" stroke-width="1" />
<text x="474.80" y="417.34" font-size="11.5" text-anchor="start" fill="#555555" font-weight="normal" >-8</text>
<line x1="410.40" y1="289.12" x2="406.40" y2="289.12" stroke="#9a9a9a" stroke-width="1" />
<text x="405.50" y="292.60" font-size="11" text-anchor="end" fill="#333333" font-weight="normal" >Exp.1</text>
<text x="405.50" y="379.80" font-size="11" text-anchor="end" fill="#333333" font-weight="normal" >Exp.4</text>
<line x1="410.40" y1="342.40" x2="469.50" y2="342.40" stroke="#a0a0a0" stroke-width="1" />
<rect x="439.4" y="257.5" width="1.7" height="84.90" fill="#1f77c4"/>
<rect x="439.4" y="342.4" width="1.7" height="41.10" fill="#d3343c"/>
<path d="M471.2 224.4L477.4 230.5M477.4 224.4L471.2 230.5" stroke="#555555" stroke-width="0.8"/><text x="479.5" y="230.8" font-size="12" fill="#555555" textLength="10.5" lengthAdjust="spacingAndGlyphs">10</text><text x="490.5" y="224.7" font-size="9" fill="#555555">7</text>
<text x="0.00" y="0.00" font-size="13" text-anchor="middle" fill="#555555" font-weight="normal" transform="translate(492.5,328) rotate(-90)" textLength="46.5" lengthAdjust="spacingAndGlyphs">Intensity</text>
<text x="407.60" y="445.00" font-size="13" text-anchor="start" fill="#555555" font-weight="normal" textLength="64.8" lengthAdjust="spacingAndGlyphs">Benzoic acid</text>
<text x="415.80" y="253.80" font-size="14" text-anchor="start" fill="#333333" font-weight="normal" textLength="14.4" lengthAdjust="spacingAndGlyphs">(c)</text>
<path d="M41.2 462.3H469.6V639.0H41.2Z" fill="none" stroke="#a0a0a0" stroke-width="1"/>
<line x1="41.20" y1="639.00" x2="41.20" y2="643.00" stroke="#9a9a9a" stroke-width="1" />
<line x1="41.20" y1="462.30" x2="41.20" y2="458.30" stroke="#9a9a9a" stroke-width="1" />
<text x="41.20" y="658.00" font-size="11.5" text-anchor="middle" fill="#555555" font-weight="normal" >0</text>
<line x1="81.62" y1="639.00" x2="81.62" y2="643.00" stroke="#9a9a9a" stroke-width="1" />
<line x1="81.62" y1="462.30" x2="81.62" y2="458.30" stroke="#9a9a9a" stroke-width="1" />
<text x="81.62" y="658.00" font-size="11.5" text-anchor="middle" fill="#555555" font-weight="normal" >5</text>
<line x1="122.03" y1="639.00" x2="122.03" y2="643.00" stroke="#9a9a9a" stroke-width="1" />
<line x1="122.03" y1="462.30" x2="122.03" y2="458.30" stroke="#9a9a9a" stroke-width="1" />
<text x="122.03" y="658.00" font-size="11.5" text-anchor="middle" fill="#555555" font-weight="normal" >10</text>
<line x1="162.45" y1="639.00" x2="162.45" y2="643.00" stroke="#9a9a9a" stroke-width="1" />
<line x1="162.45" y1="462.30" x2="162.45" y2="458.30" stroke="#9a9a9a" stroke-width="1" />
<text x="162.45" y="658.00" font-size="11.5" text-anchor="middle" fill="#555555" font-weight="normal" >15</text>
<line x1="202.86" y1="639.00" x2="202.86" y2="643.00" stroke="#9a9a9a" stroke-width="1" />
<line x1="202.86" y1="462.30" x2="202.86" y2="458.30" stroke="#9a9a9a" stroke-width="1" />
<text x="202.86" y="658.00" font-size="11.5" text-anchor="middle" fill="#555555" font-weight="normal" >20</text>
<line x1="243.28" y1="639.00" x2="243.28" y2="643.00" stroke="#9a9a9a" stroke-width="1" />
<line x1="243.28" y1="462.30" x2="243.28" y2="458.30" stroke="#9a9a9a" stroke-width="1" />
<text x="243.28" y="658.00" font-size="11.5" text-anchor="middle" fill="#555555" font-weight="normal" >25</text>
<line x1="283.69" y1="639.00" x2="283.69" y2="643.00" stroke="#9a9a9a" stroke-width="1" />
<line x1="283.69" y1="462.30" x2="283.69" y2="458.30" stroke="#9a9a9a" stroke-width="1" />
<text x="283.69" y="658.00" font-size="11.5" text-anchor="middle" fill="#555555" font-weight="normal" >30</text>
<line x1="324.11" y1="639.00" x2="324.11" y2="643.00" stroke="#9a9a9a" stroke-width="1" />
<line x1="324.11" y1="462.30" x2="324.11" y2="458.30" stroke="#9a9a9a" stroke-width="1" />
<text x="324.11" y="658.00" font-size="11.5" text-anchor="middle" fill="#555555" font-weight="normal" >35</text>
<line x1="364.52" y1="639.00" x2="364.52" y2="643.00" stroke="#9a9a9a" stroke-width="1" />
<line x1="364.52" y1="462.30" x2="364.52" y2="458.30" stroke="#9a9a9a" stroke-width="1" />
<text x="364.52" y="658.00" font-size="11.5" text-anchor="middle" fill="#555555" font-weight="normal" >40</text>
<line x1="404.94" y1="639.00" x2="404.94" y2="643.00" stroke="#9a9a9a" stroke-width="1" />
<line x1="404.94" y1="462.30" x2="404.94" y2="458.30" stroke="#9a9a9a" stroke-width="1" />
<text x="404.94" y="658.00" font-size="11.5" text-anchor="middle" fill="#555555" font-weight="normal" >45</text>
<line x1="445.35" y1="639.00" x2="445.35" y2="643.00" stroke="#9a9a9a" stroke-width="1" />
<line x1="445.35" y1="462.30" x2="445.35" y2="458.30" stroke="#9a9a9a" stroke-width="1" />
<text x="445.35" y="658.00" font-size="11.5" text-anchor="middle" fill="#555555" font-weight="normal" >50</text>
<line x1="41.20" y1="639.00" x2="37.20" y2="639.00" stroke="#9a9a9a" stroke-width="1" />
<line x1="469.60" y1="639.00" x2="473.60" y2="639.00" stroke="#9a9a9a" stroke-width="1" />
<text x="33.00" y="642.90" font-size="11.5" text-anchor="end" fill="#555555" font-weight="normal" >0</text>
<line x1="41.20" y1="594.83" x2="37.20" y2="594.83" stroke="#9a9a9a" stroke-width="1" />
<line x1="469.60" y1="594.83" x2="473.60" y2="594.83" stroke="#9a9a9a" stroke-width="1" />
<text x="33.00" y="598.73" font-size="11.5" text-anchor="end" fill="#555555" font-weight="normal" >0.5</text>
<line x1="41.20" y1="550.65" x2="37.20" y2="550.65" stroke="#9a9a9a" stroke-width="1" />
<line x1="469.60" y1="550.65" x2="473.60" y2="550.65" stroke="#9a9a9a" stroke-width="1" />
<text x="33.00" y="554.55" font-size="11.5" text-anchor="end" fill="#555555" font-weight="normal" >1</text>
<line x1="41.20" y1="506.48" x2="37.20" y2="506.48" stroke="#9a9a9a" stroke-width="1" />
<line x1="469.60" y1="506.48" x2="473.60" y2="506.48" stroke="#9a9a9a" stroke-width="1" />
<text x="33.00" y="510.38" font-size="11.5" text-anchor="end" fill="#555555" font-weight="normal" >1.5</text>
<line x1="41.20" y1="462.30" x2="37.20" y2="462.30" stroke="#9a9a9a" stroke-width="1" />
<line x1="469.60" y1="462.30" x2="473.60" y2="462.30" stroke="#9a9a9a" stroke-width="1" />
<text x="33.00" y="466.20" font-size="11.5" text-anchor="end" fill="#555555" font-weight="normal" >2</text>
<path d="M42.8 452.8L49.0 458.8M49.0 452.8L42.8 458.8" stroke="#555555" stroke-width="0.8"/><text x="51.099999999999994" y="459.1" font-size="12" fill="#555555" textLength="10.5" lengthAdjust="spacingAndGlyphs">10</text><text x="62.099999999999994" y="453.0" font-size="9" fill="#555555">7</text>
<text x="0.00" y="0.00" font-size="13" text-anchor="middle" fill="#555555" font-weight="normal" transform="translate(14.0,550.7) rotate(-90)" textLength="47" lengthAdjust="spacingAndGlyphs">Intensity</text>
<text x="225.20" y="673.60" font-size="13" text-anchor="start" fill="#555555" font-weight="normal" textLength="60.2" lengthAdjust="spacingAndGlyphs">Time / min</text>
<text x="44.80" y="481.30" font-size="14" text-anchor="start" fill="#333333" font-weight="normal" textLength="15.4" lengthAdjust="spacingAndGlyphs">(d)</text>
<text x="69.00" y="481.00" font-size="13" text-anchor="start" fill="#333333" font-weight="normal" textLength="65.4" lengthAdjust="spacingAndGlyphs">Benzoic acid</text>
<text x="434.40" y="483.00" font-size="12" text-anchor="start" fill="#333333" font-weight="normal" textLength="26.4" lengthAdjust="spacingAndGlyphs">Exp.8</text>
<text x="434.00" y="629.00" font-size="12" text-anchor="start" fill="#333333" font-weight="normal" textLength="32" lengthAdjust="spacingAndGlyphs">Exp.10</text>
<path d="M41.2 640.8 41.3 638.2 41.4 639.0 41.5 638.1 41.6 638.5 41.7 638.7 41.7 638.3 41.8 638.7 41.9 639.8 42.0 638.4 42.1 640.0 42.2 637.9 42.3 639.4 42.4 638.6 42.5 639.6 42.6 640.8 42.6 639.0 42.7 638.7 42.8 638.2 42.9 638.9 43.0 638.1 43.1 639.6 43.2 638.8 43.3 638.3 43.4 638.7 43.5 638.9 43.5 639.4 43.6 637.9 43.7 638.7 43.8 639.3 43.9 639.2 44.0 637.4 44.1 637.9 44.2 637.7 44.3 638.0 44.4 637.5 44.4 638.8 44.5 637.4 44.6 639.2 44.7 637.3 44.8 637.8 44.9 637.5 45.0 637.5 45.1 636.8 45.2 637.1 45.3 637.7 45.3 636.2 45.4 638.4 45.5 638.1 45.6 636.3 45.7 636.4 45.8 637.7 45.9 636.2 46.0 639.0 46.1 637.0 46.2 636.2 46.2 637.9 46.3 638.9 46.4 637.3 46.5 637.5 46.6 637.6 46.7 636.8 46.8 637.6 46.9 636.6 47.0 637.1 47.1 636.9 47.1 636.5 47.2 635.6 47.3 637.4 47.4 637.2 47.5 637.8 47.6 637.6 47.7 635.7 47.8 637.8 47.9 636.7 48.0 637.0 48.0 637.1 48.1 635.0 48.2 636.9 48.3 636.2 48.4 635.1 48.5 637.1 48.6 634.9 48.7 633.9 48.8 635.6 48.9 636.1 48.9 636.9 49.0 636.3 49.1 635.5 49.2 634.7 49.3 635.4 49.4 636.2 49.5 635.8 49.6 635.6 49.7 634.8 49.8 635.8 49.8 637.3 49.9 636.8 50.0 636.5 50.1 633.9 50.2 634.5 50.3 635.8 50.4 635.8 50.5 635.4 50.6 634.5 50.7 634.9 50.7 634.9 50.8 634.7 50.9 634.8 51.0 634.3 51.1 635.2 51.2 634.0 51.3 635.2 51.4 634.8 51.5 633.3 51.6 635.3 51.6 634.6 51.7 634.7 51.8 634.3 51.9 636.8 52.0 635.3 52.1 636.2 52.2 634.9 52.3 636.1 52.4 634.2 52.5 634.1 52.5 634.7 52.6 634.0 52.7 634.7 52.8 634.3 52.9 635.8 53.0 635.0 53.1 634.8 53.2 633.8 53.3 632.3 53.4 632.8 53.4 633.0 53.5 635.3 53.6 633.8 53.7 633.9 53.8 633.5 53.9 634.2 54.0 634.2 54.1 633.7 54.2 633.7 54.3 633.8 54.3 634.1 54.4 633.4 54.5 634.1 54.6 633.1 54.7 633.0 54.8 633.1 54.9 633.0 55.0 634.8 55.1 633.6 55.2 632.2 55.2 632.0 55.3 634.1 55.4 632.6 55.5 634.7 55.6 633.2 55.7 633.9 55.8 632.7 55.9 634.1 56.0 633.5 56.1 631.9 56.1 631.7 56.2 633.9 56.3 632.5 56.4 632.8 56.5 633.4 56.6 632.0 56.7 632.3 56.8 631.1 56.9 633.1 57.0 631.0 57.0 632.0 57.1 631.7 57.2 633.1 57.3 632.0 57.4 632.7 57.5 632.9 57.6 632.4 57.7 632.1 57.8 634.3 57.9 634.0 57.9 631.2 58.0 633.7 58.1 631.2 58.2 634.2 58.3 633.8 58.4 633.2 58.5 633.6 58.6 634.1 58.7 631.1 58.8 634.0 58.8 633.6 58.9 633.1 59.0 633.2 59.1 632.3 59.2 631.8 59.3 633.2 59.4 633.2 59.5 632.1 59.6 632.1 59.7 632.2 59.7 633.1 59.8 631.0 59.9 632.0 60.0 630.7 60.1 631.9 60.2 633.0 60.3 633.9 60.4 632.9 60.5 631.9 60.6 632.1 60.6 632.0 60.7 631.6 60.8 632.1 60.9 631.0 61.0 631.5 61.1 631.2 61.2 629.5 61.3 632.1 61.4 630.3 61.5 632.5 61.5 631.4 61.6 631.3 61.7 631.5 61.8 631.5 61.9 631.6 62.0 631.8 62.1 631.3 62.2 630.4 62.3 632.3 62.4 633.0 62.4 630.7 62.5 632.2 62.6 632.0 62.7 630.6 62.8 631.8 62.9 630.9 63.0 631.0 63.1 630.6 63.2 632.7 63.3 631.6 63.3 630.9 63.4 631.7 63.5 631.5 63.6 633.3 63.7 632.3 63.8 630.2 63.9 632.9 64.0 629.5 64.1 631.2 64.2 631.3 64.2 631.1 64.3 630.7 64.4 630.4 64.5 633.5 64.6 629.7 64.7 632.0 64.8 630.1 64.9 632.5 65.0 629.8 65.1 631.6 65.1 630.9 65.2 631.7 65.3 631.2 65.4 630.3 65.5 630.0 65.6 632.6 65.7 630.2 65.8 629.1 65.9 629.9 66.0 629.7 66.0 629.6 66.1 631.8 66.2 631.3 66.3 630.6 66.4 629.8 66.5 631.7 66.6 628.9 66.7 628.3 66.8 629.4 66.9 630.2 66.9 629.3 67.0 630.4 67.1 631.3 67.2 629.0 67.3 629.6 67.4 629.0 67.5 630.8 67.6 630.0 67.7 630.3 67.8 630.5 67.8 630.0 67.9 631.0 68.0 629.9 68.1 631.5 68.2 628.8 68.3 629.6 68.4 629.4 68.5 629.1 68.6 629.5 68.7 628.4 68.7 629.8 68.8 629.0 68.9 629.6 69.0 629.3 69.1 629.4 69.2 628.3 69.3 626.4 69.4 629.9 69.5 629.0 69.6 630.3 69.6 629.1 69.7 628.4 69.8 628.0 69.9 627.6 70.0 629.4 70.1 630.4 70.2 627.3 70.3 628.4 70.4 627.9 70.5 629.0 70.5 627.6 70.6 627.6 70.7 628.6 70.8 626.3 70.9 629.0 71.0 628.6 71.1 628.8 71.2 627.1 71.3 627.3 71.4 628.5 71.4 628.1 71.5 627.4 71.6 627.6 71.7 628.5 71.8 628.3 71.9 628.0 72.0 624.7 72.1 627.2 72.2 628.2 72.3 626.5 72.3 628.4 72.4 628.0 72.5 628.1 72.6 628.1 72.7 626.7 72.8 625.6 72.9 627.1 73.0 626.9 73.1 628.1 73.2 626.8 73.2 628.0 73.3 626.4 73.4 626.8 73.5 627.6 73.6 626.4 73.7 627.1 73.8 627.8 73.9 626.9 74.0 627.5 74.1 627.8 74.1 626.7 74.2 626.7 74.3 627.6 74.4 626.2 74.5 626.3 74.6 627.4 74.7 627.5 74.8 626.9 74.9 627.4 75.0 626.9 75.0 627.0 75.1 626.1 75.2 627.0 75.3 627.8 75.4 626.3 75.5 626.6 75.6 625.5 75.7 628.1 75.8 626.1 75.9 627.0 75.9 626.1 76.0 629.0 76.1 626.6 76.2 626.0 76.3 626.5 76.4 625.7 76.5 626.9 76.6 627.9 76.7 627.5 76.8 629.2 76.8 626.9 76.9 628.3 77.0 626.4 77.1 626.5 77.2 627.8 77.3 626.9 77.4 626.2 77.5 627.8 77.6 627.0 77.7 626.7 77.7 626.6 77.8 625.1 77.9 626.9 78.0 625.2 78.1 622.8 78.2 620.4 78.3 616.2 78.4 615.1 78.5 613.0 78.6 609.3 78.6 605.8 78.7 611.2 78.8 609.3 78.9 610.8 79.0 609.5 79.1 608.0 79.2 609.7 79.3 611.2 79.4 608.0 79.5 607.9 79.5 606.3 79.6 607.5 79.7 605.9 79.8 609.2 79.9 606.7 80.0 607.3 80.1 605.5 80.2 611.9 80.3 608.8 80.4 607.0 80.4 607.3 80.5 606.1 80.6 606.7 80.7 612.9 80.8 611.0 80.9 609.1 81.0 609.0 81.1 607.1 81.2 607.8 81.3 606.1 81.3 609.0 81.4 609.4 81.5 608.6 81.6 607.6 81.7 609.8 81.8 609.6 81.9 607.1 82.0 606.8 82.1 606.2 82.2 609.1 82.2 609.6 82.3 605.7 82.4 607.0 82.5 606.5 82.6 604.9 82.7 606.2 82.8 606.1 82.9 605.0 83.0 609.6 83.1 611.5 83.1 611.1 83.2 610.2 83.3 609.5 83.4 611.5 83.5 609.6 83.6 609.5 83.7 606.2 83.8 610.0 83.9 606.9 84.0 608.8 84.0 606.9 84.1 609.1 84.2 609.2 84.3 607.8 84.4 607.4 84.5 607.9 84.6 605.8 84.7 602.4 84.8 607.9 84.9 606.0 84.9 601.9 85.0 604.8 85.1 601.2 85.2 602.1 85.3 598.6 85.4 600.9 85.5 602.8 85.6 603.9 85.7 601.7 85.8 597.8 85.8 601.1 85.9 602.0 86.0 604.6 86.1 601.0 86.2 600.1 86.3 600.5 86.4 601.0 86.5 601.6 86.6 602.2 86.7 601.4 86.7 603.2 86.8 599.9 86.9 598.5 87.0 598.1 87.1 595.0 87.2 601.3 87.3 601.4 87.4 599.6 87.5 601.2 87.6 603.4 87.6 597.4 87.7 598.9 87.8 605.8 87.9 601.2 88.0 605.6 88.1 604.1 88.2 602.9 88.3 600.5 88.4 604.8 88.5 603.5 88.5 602.7 88.6 602.6 88.7 600.7 88.8 598.8 88.9 602.2 89.0 605.5 89.1 602.3 89.2 603.0 89.3 601.0 89.4 604.1 89.4 605.7 89.5 598.2 89.6 598.7 89.7 602.0 89.8 600.0 89.9 600.8 90.0 599.1 90.1 598.0 90.2 599.3 90.3 600.7 90.3 598.9 90.4 598.5 90.5 598.4 90.6 596.1 90.7 598.0 90.8 593.5 90.9 596.1 91.0 594.7 91.1 595.9 91.2 597.9 91.2 599.4 91.3 600.9 91.4 596.2 91.5 595.7 91.6 590.9 91.7 594.4 91.8 595.1 91.9 595.0 92.0 597.5 92.1 595.3 92.1 595.2 92.2 595.7 92.3 595.3 92.4 594.5 92.5 591.2 92.6 594.9 92.7 594.2 92.8 595.0 92.9 594.7 93.0 596.6 93.0 593.8 93.1 588.4 93.2 594.0 93.3 595.1 93.4 595.0 93.5 591.2 93.6 594.5 93.7 593.7 93.8 591.7 93.9 594.8 93.9 592.3 94.0 594.7 94.1 593.2 94.2 595.4 94.3 594.2 94.4 593.2 94.5 594.3 94.6 594.9 94.7 592.9 94.8 594.3 94.8 592.4 94.9 589.2 95.0 591.8 95.1 593.9 95.2 590.5 95.3 595.2 95.4 595.6 95.5 591.2 95.6 595.3 95.7 593.6 95.7 594.3 95.8 592.5 95.9 594.9 96.0 590.4 96.1 593.0 96.2 588.6 96.3 590.0 96.4 589.9 96.5 594.9 96.6 592.2 96.6 595.0 96.7 595.3 96.8 594.7 96.9 591.9 97.0 595.0 97.1 593.1 97.2 592.8 97.3 589.9 97.4 592.9 97.5 591.9 97.5 593.5 97.6 595.0 97.7 589.8 97.8 587.4 97.9 589.9 98.0 590.0 98.1 590.8 98.2 588.4 98.3 587.7 98.4 585.6 98.4 591.2 98.5 590.0 98.6 588.5 98.7 590.7 98.8 590.3 98.9 589.1 99.0 589.4 99.1 586.1 99.2 588.2 99.3 588.8 99.3 589.6 99.4 590.3 99.5 592.8 99.6 588.8 99.7 589.9 99.8 590.7 99.9 591.9 100.0 591.0 100.1 590.1 100.2 586.5 100.2 590.0 100.3 590.2 100.4 590.9 100.5 590.9 100.6 588.9 100.7 590.4 100.8 592.8 100.9 587.2 101.0 588.0 101.1 588.7 101.1 591.5 101.2 586.4 101.3 587.5 101.4 586.4 101.5 589.0 101.6 588.7 101.7 587.0 101.8 586.9 101.9 586.4 102.0 586.3 102.0 591.2 102.1 588.2 102.2 591.3 102.3 592.1 102.4 592.5 102.5 591.5 102.6 593.0 102.7 590.9 102.8 585.6 102.9 586.8 102.9 590.1 103.0 594.2 103.1 589.3 103.2 589.6 103.3 591.1 103.4 593.7 103.5 590.0 103.6 587.2 103.7 594.1 103.8 589.4 103.8 588.5 103.9 595.1 104.0 588.3 104.1 589.5 104.2 587.4 104.3 592.8 104.4 590.9 104.5 590.6 104.6 586.1 104.7 590.4 104.7 585.2 104.8 586.9 104.9 586.5 105.0 585.4 105.1 590.8 105.2 585.1 105.3 589.8 105.4 591.5 105.5 589.1 105.6 585.0 105.6 586.5 105.7 588.0 105.8 588.2 105.9 587.0 106.0 584.6 106.1 590.1 106.2 588.9 106.3 581.3 106.4 584.3 106.5 584.2 106.5 586.0 106.6 585.5 106.7 581.5 106.8 584.1 106.9 584.8 107.0 590.9 107.1 588.7 107.2 589.4 107.3 586.9 107.4 587.1 107.4 586.5 107.5 586.3 107.6 587.5 107.7 591.5 107.8 583.5 107.9 587.9 108.0 587.0 108.1 589.5 108.2 586.9 108.3 587.3 108.3 585.6 108.4 584.6 108.5 579.0 108.6 582.2 108.7 582.9 108.8 579.8 108.9 584.4 109.0 584.1 109.1 586.2 109.2 587.1 109.2 582.7 109.3 582.7 109.4 583.7 109.5 585.3 109.6 582.0 109.7 583.4 109.8 584.0 109.9 588.8 110.0 581.1 110.1 584.0 110.1 588.5 110.2 584.8 110.3 585.0 110.4 585.3 110.5 581.6 110.6 584.3 110.7 584.1 110.8 581.1 110.9 582.5 111.0 586.7 111.0 579.5 111.1 578.4 111.2 578.9 111.3 582.9 111.4 585.7 111.5 579.9 111.6 583.3 111.7 581.0 111.8 577.6 111.9 585.9 111.9 581.6 112.0 583.7 112.1 580.7 112.2 580.5 112.3 578.9 112.4 575.1 112.5 577.6 112.6 579.4 112.7 578.6 112.8 578.2 112.8 578.7 112.9 576.8 113.0 576.3 113.1 582.3 113.2 575.6 113.3 578.3 113.4 577.5 113.5 575.5 113.6 575.4 113.7 578.4 113.7 579.1 113.8 580.2 113.9 578.4 114.0 576.3 114.1 578.5 114.2 571.4 114.3 573.0 114.4 575.9 114.5 575.7 114.6 572.9 114.6 578.1 114.7 574.2 114.8 578.9 114.9 580.3 115.0 577.2 115.1 581.0 115.2 577.6 115.3 579.8 115.4 578.4 115.5 572.9 115.5 573.8 115.6 582.0 115.7 574.4 115.8 579.6 115.9 583.8 116.0 579.8 116.1 580.9 116.2 579.9 116.3 578.5 116.4 575.8 116.4 576.9 116.5 577.2 116.6 579.8 116.7 577.9 116.8 577.5 116.9 580.9 117.0 579.6 117.1 577.8 117.2 575.7 117.3 576.9 117.3 578.1 117.4 576.8 117.5 575.2 117.6 576.4 117.7 575.4 117.8 575.8 117.9 575.1 118.0 575.9 118.1 576.1 118.2 578.8 118.2 579.3 118.3 573.5 118.4 573.5 118.5 574.7 118.6 577.4 118.7 579.6 118.8 573.9 118.9 574.2 119.0 569.9 119.1 571.9 119.1 579.2 119.2 574.2 119.3 577.0 119.4 575.2 119.5 575.2 119.6 569.4 119.7 568.1 119.8 573.8 119.9 570.2 120.0 570.3 120.0 570.6 120.1 569.5 120.2 566.8 120.3 569.4 120.4 570.4 120.5 566.9 120.6 571.8 120.7 567.8 120.8 568.9 120.9 571.5 120.9 566.5 121.0 563.5 121.1 567.1 121.2 561.5 121.3 564.5 121.4 566.3 121.5 565.6 121.6 565.6 121.7 564.2 121.8 563.2 121.8 568.2 121.9 571.8 122.0 570.6 122.1 565.9 122.2 566.4 122.3 565.6 122.4 567.3 122.5 564.3 122.6 564.7 122.7 569.6 122.7 564.9 122.8 563.6 122.9 565.1 123.0 566.4 123.1 566.3 123.2 561.7 123.3 566.1 123.4 559.4 123.5 570.5 123.6 568.6 123.6 568.4 123.7 564.8 123.8 561.9 123.9 562.6 124.0 566.8 124.1 566.8 124.2 561.9 124.3 570.0 124.4 561.5 124.5 566.2 124.5 565.0 124.6 561.8 124.7 566.8 124.8 569.8 124.9 562.2 125.0 565.9 125.1 569.4 125.2 562.2 125.3 560.0 125.4 565.9 125.4 561.3 125.5 561.9 125.6 560.5 125.7 560.7 125.8 562.2 125.9 560.8 126.0 562.1 126.1 562.0 126.2 560.5 126.3 562.8 126.3 565.0 126.4 560.8 126.5 560.0 126.6 560.2 126.7 561.2 126.8 564.4 126.9 557.4 127.0 556.5 127.1 565.1 127.2 562.0 127.2 559.4 127.3 563.2 127.4 560.6 127.5 565.3 127.6 566.2 127.7 564.0 127.8 562.4 127.9 561.8 128.0 560.9 128.1 566.0 128.1 562.8 128.2 563.9 128.3 566.5 128.4 562.9 128.5 560.5 128.6 564.3 128.7 567.0 128.8 567.4 128.9 563.1 129.0 566.3 129.0 566.8 129.1 566.3 129.2 561.4 129.3 565.6 129.4 564.7 129.5 566.5 129.6 560.4 129.7 565.9 129.8 566.6 129.9 560.1 129.9 561.3 130.0 565.0 130.1 567.4 130.2 564.7 130.3 562.7 130.4 561.2 130.5 562.2 130.6 566.8 130.7 560.8 130.8 563.9 130.8 561.3 130.9 559.1 131.0 568.2 131.1 561.1 131.2 566.5 131.3 563.3 131.4 560.4 131.5 563.1 131.6 565.2 131.7 564.1 131.7 566.2 131.8 563.2 131.9 562.9 132.0 557.0 132.1 560.0 132.2 563.6 132.3 561.4 132.4 565.9 132.5 562.6 132.6 561.0 132.6 560.9 132.7 559.3 132.8 564.2 132.9 562.4 133.0 563.7 133.1 563.8 133.2 562.5 133.3 564.4 133.4 559.4 133.5 560.0 133.5 559.4 133.6 558.2 133.7 564.1 133.8 558.6 133.9 557.3 134.0 554.5 134.1 560.8 134.2 557.2 134.3 558.3 134.4 558.8 134.4 557.1 134.5 558.1 134.6 562.3 134.7 559.3 134.8 555.5 134.9 562.3 135.0 554.8 135.1 554.1 135.2 556.1 135.3 557.4 135.3 556.7 135.4 553.7 135.5 559.4 135.6 563.3 135.7 559.4 135.8 558.5 135.9 565.2 136.0 554.3 136.1 562.5 136.2 560.4 136.2 557.4 136.3 558.4 136.4 555.4 136.5 558.1 136.6 561.2 136.7 559.1 136.8 555.5 136.9 556.7 137.0 559.3 137.1 563.7 137.1 554.9 137.2 553.5 137.3 556.0 137.4 558.8 137.5 557.3 137.6 560.0 137.7 551.3 137.8 564.2 137.9 560.8 138.0 558.6 138.0 561.5 138.1 561.5 138.2 558.0 138.3 557.0 138.4 556.8 138.5 558.8 138.6 561.2 138.7 554.1 138.8 557.5 138.9 557.3 138.9 557.5 139.0 554.8 139.1 560.3 139.2 560.5 139.3 554.2 139.4 557.6 139.5 554.2 139.6 553.5 139.7 558.6 139.8 551.1 139.8 560.7 139.9 562.7 140.0 559.9 140.1 554.4 140.2 555.4 140.3 557.8 140.4 553.8 140.5 553.5 140.6 560.0 140.7 557.5 140.7 555.3 140.8 552.9 140.9 558.0 141.0 554.2 141.1 553.8 141.2 556.5 141.3 553.6 141.4 554.9 141.5 553.5 141.6 553.2 141.6 554.4 141.7 554.6 141.8 547.7 141.9 561.1 142.0 553.9 142.1 556.7 142.2 555.0 142.3 558.4 142.4 554.4 142.5 552.4 142.5 557.8 142.6 552.5 142.7 551.5 142.8 557.5 142.9 554.0 143.0 555.2 143.1 556.2 143.2 553.8 143.3 558.4 143.4 557.5 143.4 551.4 143.5 558.6 143.6 555.5 143.7 554.0 143.8 551.2 143.9 553.7 144.0 556.5 144.1 551.2 144.2 554.3 144.3 548.1 144.3 555.0 144.4 555.4 144.5 544.2 144.6 555.3 144.7 554.4 144.8 551.5 144.9 544.1 145.0 555.3 145.1 557.5 145.2 548.6 145.2 556.2 145.3 552.6 145.4 553.9 145.5 557.1 145.6 548.2 145.7 548.7 145.8 555.1 145.9 551.7 146.0 552.2 146.1 550.9 146.1 551.6 146.2 552.9 146.3 547.7 146.4 548.2 146.5 549.5 146.6 548.5 146.7 547.6 146.8 547.2 146.9 550.2 147.0 542.2 147.0 544.3 147.1 549.8 147.2 547.4 147.3 547.7 147.4 542.5 147.5 547.3 147.6 540.3 147.7 540.5 147.8 546.6 147.9 537.3 147.9 542.9 148.0 542.3 148.1 550.8 148.2 546.3 148.3 550.1 148.4 545.7 148.5 541.2 148.6 544.3 148.7 544.6 148.8 544.5 148.8 543.0 148.9 548.0 149.0 544.8 149.1 549.6 149.2 546.9 149.3 543.7 149.4 539.5 149.5 546.7 149.6 548.2 149.7 542.5 149.7 548.6 149.8 544.2 149.9 546.7 150.0 547.6 150.1 544.0 150.2 546.2 150.3 539.6 150.4 542.3 150.5 542.2 150.6 546.1 150.6 547.2 150.7 542.1 150.8 541.3 150.9 543.8 151.0 539.7 151.1 546.0 151.2 542.9 151.3 541.3 151.4 547.2 151.5 543.0 151.5 545.2 151.6 544.0 151.7 546.1 151.8 539.8 151.9 547.8 152.0 546.7 152.1 546.9 152.2 545.9 152.3 547.0 152.4 545.0 152.4 541.3 152.5 547.0 152.6 548.6 152.7 550.0 152.8 544.3 152.9 544.6 153.0 548.0 153.1 545.4 153.2 542.1 153.3 548.2 153.3 542.4 153.4 547.2 153.5 551.1 153.6 548.2 153.7 544.0 153.8 542.3 153.9 550.6 154.0 542.2 154.1 545.9 154.2 540.3 154.2 539.5 154.3 540.1 154.4 545.9 154.5 547.6 154.6 541.2 154.7 540.3 154.8 543.1 154.9 542.1 155.0 540.3 155.1 541.8 155.1 546.6 155.2 540.3 155.3 539.8 155.4 540.9 155.5 540.0 155.6 536.6 155.7 538.7 155.8 538.7 155.9 549.6 156.0 542.5 156.0 536.4 156.1 538.6 156.2 540.8 156.3 541.3 156.4 547.2 156.5 541.9 156.6 544.1 156.7 544.6 156.8 543.0 156.9 542.8 156.9 545.0 157.0 540.4 157.1 539.8 157.2 544.3 157.3 539.2 157.4 545.1 157.5 543.1 157.6 537.5 157.7 543.9 157.8 541.0 157.8 543.4 157.9 541.5 158.0 543.9 158.1 539.1 158.2 545.8 158.3 539.7 158.4 544.1 158.5 545.1 158.6 543.9 158.7 539.8 158.7 546.4 158.8 541.8 158.9 539.5 159.0 541.3 159.1 545.9 159.2 544.0 159.3 538.8 159.4 545.7 159.5 539.5 159.6 549.8 159.6 554.9 159.7 543.2 159.8 547.0 159.9 551.0 160.0 541.5 160.1 539.4 160.2 542.7 160.3 542.4 160.4 545.7 160.5 546.2 160.5 546.6 160.6 538.6 160.7 546.6 160.8 544.8 160.9 544.9 161.0 549.2 161.1 543.7 161.2 552.3 161.3 546.4 161.4 542.5 161.4 539.1 161.5 544.3 161.6 541.2 161.7 537.2 161.8 542.1 161.9 540.6 162.0 537.3 162.1 539.3 162.2 548.3 162.3 541.2 162.3 544.1 162.4 535.9 162.5 542.5 162.6 548.1 162.7 543.8 162.8 541.0 162.9 542.5 163.0 540.1 163.1 544.8 163.2 543.8 163.2 539.9 163.3 536.8 163.4 539.1 163.5 532.6 163.6 549.3 163.7 539.6 163.8 543.0 163.9 541.8 164.0 540.3 164.1 542.6 164.1 542.4 164.2 545.9 164.3 536.6 164.4 539.2 164.5 531.5 164.6 527.3 164.7 535.8 164.8 540.9 164.9 540.8 165.0 540.9 165.0 534.7 165.1 536.3 165.2 537.1 165.3 541.3 165.4 540.0 165.5 543.9 165.6 535.1 165.7 534.9 165.8 535.3 165.9 538.5 165.9 537.1 166.0 543.3 166.1 535.1 166.2 543.9 166.3 540.8 166.4 540.1 166.5 538.8 166.6 541.4 166.7 534.4 166.8 540.7 166.8 546.5 166.9 538.5 167.0 539.8 167.1 535.1 167.2 536.0 167.3 538.8 167.4 539.1 167.5 540.3 167.6 546.8 167.7 535.6 167.7 536.6 167.8 539.1 167.9 536.9 168.0 536.9 168.1 542.5 168.2 538.4 168.3 534.8 168.4 540.0 168.5 542.6 168.6 539.4 168.6 543.3 168.7 542.0 168.8 540.0 168.9 543.8 169.0 540.8 169.1 536.6 169.2 537.3 169.3 553.4 169.4 539.8 169.5 543.9 169.5 539.5 169.6 541.1 169.7 536.2 169.8 545.7 169.9 541.3 170.0 541.1 170.1 539.4 170.2 542.3 170.3 541.8 170.4 539.7 170.4 540.5 170.5 537.4 170.6 539.0 170.7 546.0 170.8 544.0 170.9 533.6 171.0 543.5 171.1 544.9 171.2 536.8 171.3 539.7 171.3 539.4 171.4 538.5 171.5 541.0 171.6 536.8 171.7 535.3 171.8 536.4 171.9 536.1 172.0 538.7 172.1 538.4 172.2 540.6 172.2 535.4 172.3 531.1 172.4 542.4 172.5 526.9 172.6 537.9 172.7 535.8 172.8 530.8 172.9 529.3 173.0 537.2 173.1 535.8 173.1 532.6 173.2 539.2 173.3 526.9 173.4 540.4 173.5 537.7 173.6 537.5 173.7 533.3 173.8 540.4 173.9 530.6 174.0 531.5 174.0 534.6 174.1 532.5 174.2 533.6 174.3 531.9 174.4 533.6 174.5 532.8 174.6 528.1 174.7 533.3 174.8 529.6 174.9 534.1 174.9 530.9 175.0 537.6 175.1 533.4 175.2 542.4 175.3 534.2 175.4 533.2 175.5 530.4 175.6 530.2 175.7 531.4 175.8 530.3 175.8 527.5 175.9 531.7 176.0 531.1 176.1 534.8 176.2 539.2 176.3 528.3 176.4 536.1 176.5 532.6 176.6 530.4 176.7 533.2 176.7 529.7 176.8 528.7 176.9 530.8 177.0 528.0 177.1 529.7 177.2 530.9 177.3 528.3 177.4 534.7 177.5 531.3 177.6 527.9 177.6 526.8 177.7 528.3 177.8 535.8 177.9 530.0 178.0 531.3 178.1 531.8 178.2 531.8 178.3 534.8 178.4 533.2 178.5 525.1 178.5 539.6 178.6 529.3 178.7 532.0 178.8 535.5 178.9 529.6 179.0 530.8 179.1 526.6 179.2 532.2 179.3 531.5 179.4 530.2 179.4 526.7 179.5 530.8 179.6 531.6 179.7 532.3 179.8 527.1 179.9 530.0 180.0 529.2 180.1 533.3 180.2 533.3 180.3 527.2 180.3 526.7 180.4 533.9 180.5 527.7 180.6 526.5 180.7 530.1 180.8 532.8 180.9 528.6 181.0 526.8 181.1 535.9 181.2 534.7 181.2 535.4 181.3 532.6 181.4 531.7 181.5 535.4 181.6 526.7 181.7 532.7 181.8 537.2 181.9 533.1 182.0 534.7 182.1 522.6 182.1 532.2 182.2 533.2 182.3 534.9 182.4 528.8 182.5 532.7 182.6 538.9 182.7 537.3 182.8 525.9 182.9 538.2 183.0 528.9 183.0 532.6 183.1 530.0 183.2 530.2 183.3 528.7 183.4 530.3 183.5 524.8 183.6 531.7 183.7 526.8 183.8 526.9 183.9 531.4 183.9 526.7 184.0 527.1 184.1 526.4 184.2 526.9 184.3 539.3 184.4 520.9 184.5 532.4 184.6 534.5 184.7 528.9 184.8 525.1 184.8 527.9 184.9 531.1 185.0 528.6 185.1 522.9 185.2 526.8 185.3 527.6 185.4 523.8 185.5 538.4 185.6 523.5 185.7 528.2 185.7 527.4 185.8 528.8 185.9 531.2 186.0 524.1 186.1 530.3 186.2 522.8 186.3 526.7 186.4 522.3 186.5 526.3 186.6 523.2 186.6 524.5 186.7 529.4 186.8 527.8 186.9 530.3 187.0 534.0 187.1 530.1 187.2 523.8 187.3 537.7 187.4 532.7 187.5 535.2 187.5 533.0 187.6 521.9 187.7 533.9 187.8 533.3 187.9 531.5 188.0 534.1 188.1 527.1 188.2 531.6 188.3 538.2 188.4 534.7 188.4 535.6 188.5 530.0 188.6 521.3 188.7 518.6 188.8 527.1 188.9 524.9 189.0 522.1 189.1 524.6 189.2 525.0 189.3 523.3 189.3 528.2 189.4 525.7 189.5 529.0 189.6 525.8 189.7 529.3 189.8 527.9 189.9 527.8 190.0 532.2 190.1 529.4 190.2 531.6 190.2 532.3 190.3 530.0 190.4 526.7 190.5 530.0 190.6 526.9 190.7 525.6 190.8 530.2 190.9 529.2 191.0 524.4 191.1 532.0 191.1 523.9 191.2 525.5 191.3 530.4 191.4 532.5 191.5 522.5 191.6 527.8 191.7 529.1 191.8 528.1 191.9 522.3 192.0 528.8 192.0 528.1 192.1 529.8 192.2 523.5 192.3 529.4 192.4 526.2 192.5 533.5 192.6 522.3 192.7 522.3 192.8 530.1 192.9 530.1 192.9 523.1 193.0 529.3 193.1 521.0 193.2 522.6 193.3 526.2 193.4 526.2 193.5 526.7 193.6 525.2 193.7 525.1 193.8 526.8 193.8 525.5 193.9 531.6 194.0 527.9 194.1 533.0 194.2 530.2 194.3 524.3 194.4 522.1 194.5 527.1 194.6 525.1 194.7 526.8 194.7 525.2 194.8 516.5 194.9 523.2 195.0 523.3 195.1 518.2 195.2 518.2 195.3 523.9 195.4 534.0 195.5 526.2 195.6 533.8 195.6 522.7 195.7 528.4 195.8 527.7 195.9 522.8 196.0 524.0 196.1 527.7 196.2 521.9 196.3 520.9 196.4 527.1 196.5 521.1 196.5 527.2 196.6 529.1 196.7 523.2 196.8 520.7 196.9 530.5 197.0 527.0 197.1 532.3 197.2 526.8 197.3 519.9 197.4 531.3 197.4 526.6 197.5 530.6 197.6 526.8 197.7 526.7 197.8 517.0 197.9 521.2 198.0 521.3 198.1 522.8 198.2 518.5 198.3 523.1 198.3 526.9 198.4 527.4 198.5 524.5 198.6 526.1 198.7 521.8 198.8 526.4 198.9 520.0 199.0 519.3 199.1 520.0 199.2 524.6 199.2 523.5 199.3 526.8 199.4 523.5 199.5 522.7 199.6 530.1 199.7 524.0 199.8 523.1 199.9 529.6 200.0 531.2 200.1 531.1 200.1 519.9 200.2 524.6 200.3 522.2 200.4 522.0 200.5 520.0 200.6 529.1 200.7 512.8 200.8 524.1 200.9 524.8 201.0 516.9 201.0 522.2 201.1 532.0 201.2 521.6 201.3 517.3 201.4 520.3 201.5 528.9 201.6 529.0 201.7 526.3 201.8 523.3 201.9 522.9 201.9 526.1 202.0 526.0 202.1 520.2 202.2 524.1 202.3 525.9 202.4 518.1 202.5 516.0 202.6 517.1 202.7 522.2 202.8 530.3 202.8 522.2 202.9 523.4 203.0 528.4 203.1 518.4 203.2 515.9 203.3 525.2 203.4 522.4 203.5 535.5 203.6 527.5 203.7 528.4 203.7 528.9 203.8 526.1 203.9 523.6 204.0 527.9 204.1 527.2 204.2 525.6 204.3 521.2 204.4 520.0 204.5 525.2 204.6 519.8 204.6 526.0 204.7 521.6 204.8 525.3 204.9 527.2 205.0 505.5 205.1 514.3 205.2 529.7 205.3 517.2 205.4 519.6 205.5 520.6 205.5 527.0 205.6 515.7 205.7 523.5 205.8 513.8 205.9 526.3 206.0 522.3 206.1 523.6 206.2 519.1 206.3 524.1 206.4 518.6 206.4 518.2 206.5 517.2 206.6 512.4 206.7 518.8 206.8 522.9 206.9 520.3 207.0 515.6 207.1 519.0 207.2 520.1 207.3 516.5 207.3 514.8 207.4 525.4 207.5 510.2 207.6 518.0 207.7 518.9 207.8 522.9 207.9 525.7 208.0 518.6 208.1 524.8 208.2 514.8 208.2 526.1 208.3 514.5 208.4 529.1 208.5 525.1 208.6 522.8 208.7 527.2 208.8 518.8 208.9 524.6 209.0 511.5 209.1 525.0 209.1 520.4 209.2 526.0 209.3 516.6 209.4 514.7 209.5 516.2 209.6 520.2 209.7 515.5 209.8 524.9 209.9 523.1 210.0 517.1 210.0 510.7 210.1 519.9 210.2 517.3 210.3 522.8 210.4 521.3 210.5 515.3 210.6 521.7 210.7 523.9 210.8 522.6 210.9 519.3 210.9 515.7 211.0 511.5 211.1 510.8 211.2 517.3 211.3 528.4 211.4 517.0 211.5 525.8 211.6 522.0 211.7 513.6 211.8 518.4 211.8 523.9 211.9 518.9 212.0 518.6 212.1 529.2 212.2 521.2 212.3 519.0 212.4 523.4 212.5 521.0 212.6 528.7 212.7 516.2 212.7 514.2 212.8 520.3 212.9 518.0 213.0 521.2 213.1 518.0 213.2 521.6 213.3 510.7 213.4 521.6 213.5 523.6 213.6 509.2 213.6 512.4 213.7 518.9 213.8 516.2 213.9 512.8 214.0 520.6 214.1 514.4 214.2 518.3 214.3 524.7 214.4 514.7 214.5 521.3 214.5 520.0 214.6 518.0 214.7 527.2 214.8 528.9 214.9 523.7 215.0 514.3 215.1 520.2 215.2 516.9 215.3 511.3 215.4 517.0 215.4 520.5 215.5 520.2 215.6 519.2 215.7 526.4 215.8 515.1 215.9 521.5 216.0 516.0 216.1 510.8 216.2 520.1 216.3 512.7 216.3 529.7 216.4 511.1 216.5 518.7 216.6 519.9 216.7 520.2 216.8 527.6 216.9 519.9 217.0 516.7 217.1 515.0 217.2 522.7 217.2 508.1 217.3 515.7 217.4 517.9 217.5 510.3 217.6 521.6 217.7 517.7 217.8 518.0 217.9 519.8 218.0 519.2 218.1 516.6 218.1 519.5 218.2 512.2 218.3 514.7 218.4 511.9 218.5 516.1 218.6 522.1 218.7 528.3 218.8 511.4 218.9 525.1 219.0 521.0 219.0 512.3 219.1 517.8 219.2 520.2 219.3 519.4 219.4 513.4 219.5 519.5 219.6 506.7 219.7 513.4 219.8 511.1 219.9 517.3 219.9 526.1 220.0 523.8 220.1 517.2 220.2 522.6 220.3 507.0 220.4 524.6 220.5 517.8 220.6 515.2 220.7 518.7 220.8 505.2 220.8 515.1 220.9 514.3 221.0 519.7 221.1 515.8 221.2 521.7 221.3 520.9 221.4 517.5 221.5 512.4 221.6 516.0 221.7 514.1 221.7 516.3 221.8 519.6 221.9 510.8 222.0 517.8 222.1 525.5 222.2 514.0 222.3 519.7 222.4 517.3 222.5 511.4 222.6 508.6 222.6 515.1 222.7 524.4 222.8 524.0 222.9 518.3 223.0 519.1 223.1 522.4 223.2 515.6 223.3 519.2 223.4 527.1 223.5 515.2 223.5 515.2 223.6 511.6 223.7 524.0 223.8 513.6 223.9 521.8 224.0 516.7 224.1 507.3 224.2 519.0 224.3 519.4 224.4 528.0 224.4 512.0 224.5 512.6 224.6 513.4 224.7 516.7 224.8 520.0 224.9 514.9 225.0 515.5 225.1 515.7 225.2 519.7 225.3 508.5 225.3 511.9 225.4 510.6 225.5 512.7 225.6 513.9 225.7 510.6 225.8 507.9 225.9 516.8 226.0 514.7 226.1 511.1 226.2 520.2 226.2 519.4 226.3 521.2 226.4 516.4 226.5 521.5 226.6 518.0 226.7 511.0 226.8 512.1 226.9 521.6 227.0 516.3 227.1 527.4 227.1 509.0 227.2 517.0 227.3 512.1 227.4 519.3 227.5 517.9 227.6 515.8 227.7 514.7 227.8 513.3 227.9 527.5 228.0 517.9 228.0 513.3 228.1 515.4 228.2 516.1 228.3 516.7 228.4 522.4 228.5 512.5 228.6 515.7 228.7 513.4 228.8 514.2 228.9 510.6 228.9 506.9 229.0 513.4 229.1 513.8 229.2 507.4 229.3 514.7 229.4 520.6 229.5 509.6 229.6 510.1 229.7 518.6 229.8 509.7 229.8 509.4 229.9 506.5 230.0 512.7 230.1 523.5 230.2 521.0 230.3 517.1 230.4 517.2 230.5 511.3 230.6 506.8 230.7 515.2 230.7 512.4 230.8 510.6 230.9 512.0 231.0 523.0 231.1 515.2 231.2 517.7 231.3 506.7 231.4 518.7 231.5 512.1 231.6 507.1 231.6 509.5 231.7 521.8 231.8 511.3 231.9 514.8 232.0 517.6 232.1 514.7 232.2 515.6 232.3 513.6 232.4 514.0 232.5 509.5 232.5 518.3 232.6 516.9 232.7 509.8 232.8 515.7 232.9 511.7 233.0 517.0 233.1 505.6 233.2 503.9 233.3 518.5 233.4 527.1 233.4 513.5 233.5 504.2 233.6 514.8 233.7 519.2 233.8 517.3 233.9 520.7 234.0 521.0 234.1 508.8 234.2 513.6 234.3 515.1 234.3 525.6 234.4 516.6 234.5 516.1 234.6 510.9 234.7 516.8 234.8 513.2 234.9 513.4 235.0 516.1 235.1 513.1 235.2 519.4 235.2 510.3 235.3 508.4 235.4 530.6 235.5 506.4 235.6 512.7 235.7 506.1 235.8 515.7 235.9 515.3 236.0 504.9 236.1 516.9 236.1 517.8 236.2 508.2 236.3 514.4 236.4 520.2 236.5 507.6 236.6 504.5 236.7 514.6 236.8 522.8 236.9 517.4 237.0 516.3 237.0 513.8 237.1 514.7 237.2 517.4 237.3 512.0 237.4 512.8 237.5 514.0 237.6 512.4 237.7 511.8 237.8 517.3 237.9 515.0 237.9 516.6 238.0 515.7 238.1 511.1 238.2 509.8 238.3 509.0 238.4 518.9 238.5 518.2 238.6 508.7 238.7 516.2 238.8 508.8 238.8 512.2 238.9 517.0 239.0 505.5 239.1 514.2 239.2 525.2 239.3 504.8 239.4 514.1 239.5 514.7 239.6 526.9 239.7 504.9 239.7 515.5 239.8 512.0 239.9 505.1 240.0 513.5 240.1 511.9 240.2 517.1 240.3 506.7 240.4 522.9 240.5 513.5 240.6 517.1 240.6 524.0 240.7 513.7 240.8 509.1 240.9 508.1 241.0 505.2 241.1 509.0 241.2 514.6 241.3 504.8 241.4 514.0 241.5 515.7 241.5 514.0 241.6 511.6 241.7 520.2 241.8 520.5 241.9 503.6 242.0 512.4 242.1 518.9 242.2 514.5 242.3 515.0 242.4 505.7 242.4 504.2 242.5 518.2 242.6 511.7 242.7 511.4 242.8 515.9 242.9 522.3 243.0 511.9 243.1 513.0 243.2 508.9 243.3 516.2 243.3 512.5 243.4 524.5 243.5 510.2 243.6 510.4 243.7 519.4 243.8 517.1 243.9 506.0 244.0 515.5 244.1 498.4 244.2 515.7 244.2 515.8 244.3 507.2 244.4 509.5 244.5 505.7 244.6 515.7 244.7 505.8 244.8 513.8 244.9 510.9 245.0 515.9 245.1 507.3 245.1 506.9 245.2 499.8 245.3 508.6 245.4 508.2 245.5 513.1 245.6 507.4 245.7 514.4 245.8 513.5 245.9 513.1 246.0 516.2 246.0 508.9 246.1 509.5 246.2 510.1 246.3 508.8 246.4 513.2 246.5 508.7 246.6 508.9 246.7 513.6 246.8 513.5 246.9 502.8 246.9 511.9 247.0 515.3 247.1 507.7 247.2 518.2 247.3 511.3 247.4 521.3 247.5 516.0 247.6 508.3 247.7 506.9 247.8 501.8 247.8 509.8 247.9 505.9 248.0 507.8 248.1 513.5 248.2 518.6 248.3 508.7 248.4 505.7 248.5 506.4 248.6 510.3 248.7 511.0 248.7 507.5 248.8 514.9 248.9 517.2 249.0 515.8 249.1 512.1 249.2 504.4 249.3 515.8 249.4 504.4 249.5 512.4 249.6 507.0 249.6 507.1 249.7 518.8 249.8 519.2 249.9 512.0 250.0 523.3 250.1 507.5 250.2 513.9 250.3 517.6 250.4 513.2 250.5 525.0 250.5 510.2 250.6 507.7 250.7 513.4 250.8 506.8 250.9 501.0 251.0 508.5 251.1 514.4 251.2 514.7 251.3 519.0 251.4 515.8 251.4 505.4 251.5 515.0 251.6 505.5 251.7 514.4 251.8 502.6 251.9 512.3 252.0 509.5 252.1 516.0 252.2 517.3 252.3 507.9 252.3 516.3 252.4 507.9 252.5 516.1 252.6 515.9 252.7 507.5 252.8 513.9 252.9 513.8 253.0 509.1 253.1 515.0 253.2 503.1 253.2 505.1 253.3 508.2 253.4 515.5 253.5 511.2 253.6 509.5 253.7 503.9 253.8 508.1 253.9 508.8 254.0 515.9 254.1 520.1 254.1 507.6 254.2 501.8 254.3 512.7 254.4 510.2 254.5 505.0 254.6 511.2 254.7 512.2 254.8 510.8 254.9 509.3 255.0 508.2 255.0 513.0 255.1 506.4 255.2 505.4 255.3 508.6 255.4 509.5 255.5 509.3 255.6 514.2 255.7 510.5 255.8 519.8 255.9 509.9 255.9 503.8 256.0 503.6 256.1 506.7 256.2 511.0 256.3 505.4 256.4 521.1 256.5 499.2 256.6 512.0 256.7 516.7 256.8 512.5 256.8 508.4 256.9 502.4 257.0 502.9 257.1 508.2 257.2 509.9 257.3 504.2 257.4 503.0 257.5 515.3 257.6 511.8 257.7 503.9 257.7 517.0 257.8 505.4 257.9 518.1 258.0 498.6 258.1 506.8 258.2 496.2 258.3 510.1 258.4 507.7 258.5 516.6 258.6 506.9 258.6 510.0 258.7 502.5 258.8 502.7 258.9 507.9 259.0 502.3 259.1 506.5 259.2 504.1 259.3 514.0 259.4 505.2 259.5 505.1 259.5 504.3 259.6 506.2 259.7 508.8 259.8 506.6 259.9 505.8 260.0 509.2 260.1 504.6 260.2 505.7 260.3 509.7 260.4 501.7 260.4 506.8 260.5 511.5 260.6 511.3 260.7 511.0 260.8 508.4 260.9 506.2 261.0 507.4 261.1 515.7 261.2 511.4 261.3 505.6 261.3 507.3 261.4 515.9 261.5 509.9 261.6 516.4 261.7 505.5 261.8 504.5 261.9 510.9 262.0 512.0 262.1 510.8 262.2 516.1 262.2 516.4 262.3 508.2 262.4 502.7 262.5 509.3 262.6 512.4 262.7 502.8 262.8 513.4 262.9 504.8 263.0 507.9 263.1 513.7 263.1 512.4 263.2 508.8 263.3 503.3 263.4 509.9 263.5 506.3 263.6 509.9 263.7 507.4 263.8 510.1 263.9 505.4 264.0 517.2 264.0 506.1 264.1 509.8 264.2 505.2 264.3 508.3 264.4 505.6 264.5 509.5 264.6 501.4 264.7 499.5 264.8 504.7 264.9 501.0 264.9 506.3 265.0 505.0 265.1 509.1 265.2 511.3 265.3 503.9 265.4 505.2 265.5 507.6 265.6 503.8 265.7 513.9 265.8 510.9 265.8 505.2 265.9 518.7 266.0 505.1 266.1 514.8 266.2 514.6 266.3 502.4 266.4 510.9 266.5 512.0 266.6 496.5 266.7 505.3 266.7 525.1 266.8 502.1 266.9 510.9 267.0 511.8 267.1 514.3 267.2 504.6 267.3 512.4 267.4 506.3 267.5 507.6 267.6 507.5 267.6 505.2 267.7 515.3 267.8 503.1 267.9 504.6 268.0 507.9 268.1 507.8 268.2 504.6 268.3 509.3 268.4 508.6 268.5 507.3 268.5 504.7 268.6 509.9 268.7 512.7 268.8 506.6 268.9 497.8 269.0 506.3 269.1 510.9 269.2 507.2 269.3 511.8 269.4 507.6 269.4 506.2 269.5 505.4 269.6 499.0 269.7 513.5 269.8 516.1 269.9 501.0 270.0 511.4 270.1 510.9 270.2 502.1 270.3 508.4 270.3 497.9 270.4 512.9 270.5 507.3 270.6 508.3 270.7 505.4 270.8 510.2 270.9 513.4 271.0 512.9 271.1 512.9 271.2 510.7 271.2 515.2 271.3 515.4 271.4 509.0 271.5 512.1 271.6 501.2 271.7 515.6 271.8 510.5 271.9 507.9 272.0 506.6 272.1 509.9 272.1 514.9 272.2 513.9 272.3 516.7 272.4 509.7 272.5 507.2 272.6 503.4 272.7 500.8 272.8 507.6 272.9 502.0 273.0 511.0 273.0 516.3 273.1 512.4 273.2 503.1 273.3 505.8 273.4 508.2 273.5 512.2 273.6 504.2 273.7 506.9 273.8 508.1 273.9 521.3 273.9 501.6 274.0 517.1 274.1 508.1 274.2 502.1 274.3 502.8 274.4 514.6 274.5 514.3 274.6 515.2 274.7 508.4 274.8 507.2 274.8 502.3 274.9 506.0 275.0 496.4 275.1 512.2 275.2 504.4 275.3 508.6 275.4 510.0 275.5 508.5 275.6 510.7 275.7 510.0 275.7 511.6 275.8 510.5 275.9 510.6 276.0 506.6 276.1 509.3 276.2 511.8 276.3 504.1 276.4 506.8 276.5 508.9 276.6 513.4 276.6 511.8 276.7 506.1 276.8 504.5 276.9 505.3 277.0 521.5 277.1 503.2 277.2 515.3 277.3 507.3 277.4 501.2 277.5 516.9 277.5 506.0 277.6 498.9 277.7 514.9 277.8 508.1 277.9 507.0 278.0 507.5 278.1 509.1 278.2 493.6 278.3 509.2 278.4 507.6 278.4 505.3 278.5 515.7 278.6 505.6 278.7 504.4 278.8 509.0 278.9 506.6 279.0 515.4 279.1 507.6 279.2 505.3 279.3 502.8 279.3 513.8 279.4 505.7 279.5 507.4 279.6 516.2 279.7 502.6 279.8 509.6 279.9 511.5 280.0 504.6 280.1 499.0 280.2 506.2 280.2 509.6 280.3 508.0 280.4 514.9 280.5 515.6 280.6 508.3 280.7 504.7 280.8 503.4 280.9 509.1 281.0 508.5 281.1 518.0 281.1 512.2 281.2 509.9 281.3 506.4 281.4 512.2 281.5 508.4 281.6 515.5 281.7 498.6 281.8 508.7 281.9 504.5 282.0 508.1 282.0 505.3 282.1 511.8 282.2 507.9 282.3 505.7 282.4 511.9 282.5 508.7 282.6 513.4 282.7 506.1 282.8 503.6 282.9 512.6 282.9 512.2 283.0 503.4 283.1 509.7 283.2 503.7 283.3 513.1 283.4 500.2 283.5 501.6 283.6 507.3 283.7 514.3 283.8 506.6 283.8 515.0 283.9 513.9 284.0 511.5 284.1 504.8 284.2 500.2 284.3 512.3 284.4 507.6 284.5 498.7 284.6 510.7 284.7 507.5 284.7 508.1 284.8 499.9 284.9 505.6 285.0 517.5 285.1 499.7 285.2 509.4 285.3 503.7 285.4 511.4 285.5 504.8 285.5 507.7 285.6 514.3 285.7 510.5 285.8 510.3 285.9 517.3 286.0 512.9 286.1 500.3 286.2 516.1 286.3 509.1 286.4 514.0 286.4 507.1 286.5 502.9 286.6 494.5 286.7 508.3 286.8 506.8 286.9 514.4 287.0 511.4 287.1 502.4 287.2 509.1 287.3 504.2 287.3 507.1 287.4 512.1 287.5 495.8 287.6 504.1 287.7 512.4 287.8 510.7 287.9 516.0 288.0 508.0 288.1 496.1 288.2 512.5 288.2 514.0 288.3 512.1 288.4 494.7 288.5 518.0 288.6 505.8 288.7 498.9 288.8 507.5 288.9 503.0 289.0 498.4 289.1 504.6 289.1 506.4 289.2 498.6 289.3 502.1 289.4 504.3 289.5 508.6 289.6 505.9 289.7 512.5 289.8 508.7 289.9 495.7 290.0 504.4 290.0 511.9 290.1 513.3 290.2 504.3 290.3 510.4 290.4 514.7 290.5 504.7 290.6 510.3 290.7 510.2 290.8 502.4 290.9 499.3 290.9 496.2 291.0 516.1 291.1 514.7 291.2 514.1 291.3 511.7 291.4 514.8 291.5 517.4 291.6 514.9 291.7 504.2 291.8 500.8 291.8 505.8 291.9 495.2 292.0 505.4 292.1 504.0 292.2 497.4 292.3 514.0 292.4 502.5 292.5 509.7 292.6 518.2 292.7 514.5 292.7 508.6 292.8 508.9 292.9 497.0 293.0 500.6 293.1 499.7 293.2 500.0 293.3 504.2 293.4 509.0 293.5 514.3 293.6 499.6 293.6 500.0 293.7 510.7 293.8 508.5 293.9 518.4 294.0 501.9 294.1 502.6 294.2 512.8 294.3 506.7 294.4 508.1 294.5 500.4 294.5 520.5 294.6 502.0 294.7 501.4 294.8 504.2 294.9 506.4 295.0 510.7 295.1 498.5 295.2 504.9 295.3 509.7 295.4 512.6 295.4 511.1 295.5 507.4 295.6 502.2 295.7 509.5 295.8 504.5 295.9 496.8 296.0 506.4 296.1 497.7 296.2 507.9 296.3 498.6 296.3 499.9 296.4 504.7 296.5 506.2 296.6 513.9 296.7 503.3 296.8 515.1 296.9 507.4 297.0 513.6 297.1 509.8 297.2 517.3 297.2 510.9 297.3 511.2 297.4 513.6 297.5 506.1 297.6 508.5 297.7 512.8 297.8 510.9 297.9 507.7 298.0 507.7 298.1 505.3 298.1 512.4 298.2 504.0 298.3 503.3 298.4 503.5 298.5 512.2 298.6 517.8 298.7 498.8 298.8 502.9 298.9 503.5 299.0 522.5 299.0 501.2 299.1 511.1 299.2 508.8 299.3 502.9 299.4 508.1 299.5 512.2 299.6 508.1 299.7 509.3 299.8 513.9 299.9 509.9 299.9 502.8 300.0 498.0 300.1 504.9 300.2 513.0 300.3 508.7 300.4 512.1 300.5 509.2 300.6 504.8 300.7 518.4 300.8 511.5 300.8 503.4 300.9 495.3 301.0 508.3 301.1 499.6 301.2 506.7 301.3 516.4 301.4 505.2 301.5 513.5 301.6 501.4 301.7 500.8 301.7 502.8 301.8 516.6 301.9 510.5 302.0 495.9 302.1 505.7 302.2 505.2 302.3 508.7 302.4 495.5 302.5 511.1 302.6 507.2 302.6 504.5 302.7 502.9 302.8 502.4 302.9 503.2 303.0 507.9 303.1 504.6 303.2 511.0 303.3 499.2 303.4 495.9 303.5 499.3 303.5 513.3 303.6 498.7 303.7 506.5 303.8 506.9 303.9 505.9 304.0 505.5 304.1 500.2 304.2 512.0 304.3 504.0 304.4 513.2 304.4 492.4 304.5 508.4 304.6 499.3 304.7 503.0 304.8 503.1 304.9 500.5 305.0 506.4 305.1 502.2 305.2 502.6 305.3 500.7 305.3 505.2 305.4 508.0 305.5 503.3 305.6 508.5 305.7 497.9 305.8 506.1 305.9 511.3 306.0 498.6 306.1 503.1 306.2 511.3 306.2 493.7 306.3 506.2 306.4 505.8 306.5 505.3 306.6 511.1 306.7 503.8 306.8 500.1 306.9 501.2 307.0 513.5 307.1 507.4 307.1 501.1 307.2 508.6 307.3 507.0 307.4 512.0 307.5 514.9 307.6 508.9 307.7 515.2 307.8 510.8 307.9 495.3 308.0 503.1 308.0 516.5 308.1 512.5 308.2 512.2 308.3 499.2 308.4 503.3 308.5 509.1 308.6 507.8 308.7 510.2 308.8 503.5 308.9 513.5 308.9 513.5 309.0 511.6 309.1 511.5 309.2 515.1 309.3 513.8 309.4 512.3 309.5 514.2 309.6 504.1 309.7 498.4 309.8 513.1 309.8 502.7 309.9 500.3 310.0 509.7 310.1 507.0 310.2 511.7 310.3 500.3 310.4 514.8 310.5 509.0 310.6 509.4 310.7 499.8 310.7 501.0 310.8 499.5 310.9 499.8 311.0 508.0 311.1 504.6 311.2 505.2 311.3 505.7 311.4 513.8 311.5 504.5 311.6 517.8 311.6 501.1 311.7 499.5 311.8 515.2 311.9 498.6 312.0 520.7 312.1 505.8 312.2 511.4 312.3 519.0 312.4 506.5 312.5 505.3 312.5 497.9 312.6 490.3 312.7 512.2 312.8 509.6 312.9 505.6 313.0 506.9 313.1 497.4 313.2 506.4 313.3 498.2 313.4 509.1 313.4 506.6 313.5 496.6 313.6 505.1 313.7 507.0 313.8 502.5 313.9 506.3 314.0 498.6 314.1 507.6 314.2 509.3 314.3 508.8 314.3 497.8 314.4 505.0 314.5 513.6 314.6 506.2 314.7 508.3 314.8 504.0 314.9 516.0 315.0 510.7 315.1 502.9 315.2 499.1 315.2 506.1 315.3 493.7 315.4 505.9 315.5 506.4 315.6 511.2 315.7 499.0 315.8 502.6 315.9 512.8 316.0 496.8 316.1 511.7 316.1 498.7 316.2 508.3 316.3 508.5 316.4 509.1 316.5 504.5 316.6 510.4 316.7 513.2 316.8 500.3 316.9 508.9 317.0 501.3 317.0 508.3 317.1 507.0 317.2 508.3 317.3 505.9 317.4 508.5 317.5 507.5 317.6 512.3 317.7 512.6 317.8 510.0 317.9 512.4 317.9 510.5 318.0 503.8 318.1 507.7 318.2 493.5 318.3 501.8 318.4 494.2 318.5 501.8 318.6 505.4 318.7 506.1 318.8 508.9 318.8 504.9 318.9 502.2 319.0 516.9 319.1 507.7 319.2 511.7 319.3 509.1 319.4 508.2 319.5 503.2 319.6 505.9 319.7 514.0 319.7 508.8 319.8 510.3 319.9 503.1 320.0 506.6 320.1 501.2 320.2 509.1 320.3 508.6 320.4 509.1 320.5 513.6 320.6 513.2 320.6 510.6 320.7 507.4 320.8 504.1 320.9 506.3 321.0 504.3 321.1 506.5 321.2 506.7 321.3 496.6 321.4 500.7 321.5 504.3 321.5 504.4 321.6 491.6 321.7 506.7 321.8 515.9 321.9 512.1 322.0 510.2 322.1 516.2 322.2 509.3 322.3 508.8 322.4 513.5 322.4 499.8 322.5 515.2 322.6 505.8 322.7 500.6 322.8 504.2 322.9 503.6 323.0 503.4 323.1 511.3 323.2 509.3 323.3 506.6 323.3 498.9 323.4 498.4 323.5 502.5 323.6 508.4 323.7 503.2 323.8 502.1 323.9 504.8 324.0 503.9 324.1 510.2 324.2 495.6 324.2 504.9 324.3 504.5 324.4 504.9 324.5 507.4 324.6 506.7 324.7 503.9 324.8 515.0 324.9 506.0 325.0 508.0 325.1 509.3 325.1 500.1 325.2 513.2 325.3 507.8 325.4 505.5 325.5 499.2 325.6 500.6 325.7 512.0 325.8 510.6 325.9 501.9 326.0 507.2 326.0 505.3 326.1 504.5 326.2 509.2 326.3 500.9 326.4 511.6 326.5 499.9 326.6 511.3 326.7 504.0 326.8 498.4 326.9 505.5 326.9 502.4 327.0 499.5 327.1 500.7 327.2 497.3 327.3 507.1 327.4 508.2 327.5 501.9 327.6 502.1 327.7 515.3 327.8 507.3 327.8 502.9 327.9 513.0 328.0 501.6 328.1 505.6 328.2 493.6 328.3 510.5 328.4 504.8 328.5 511.7 328.6 508.2 328.7 498.0 328.7 512.7 328.8 498.7 328.9 517.9 329.0 502.8 329.1 505.2 329.2 499.5 329.3 500.2 329.4 506.9 329.5 498.0 329.6 513.4 329.6 506.0 329.7 511.8 329.8 509.3 329.9 502.9 330.0 506.6 330.1 502.9 330.2 508.8 330.3 515.2 330.4 512.9 330.5 512.5 330.5 505.3 330.6 505.6 330.7 501.7 330.8 504.3 330.9 500.3 331.0 500.7 331.1 498.6 331.2 504.2 331.3 509.0 331.4 502.8 331.4 505.7 331.5 499.2 331.6 506.4 331.7 506.2 331.8 506.1 331.9 498.1 332.0 517.6 332.1 506.7 332.2 508.7 332.3 516.3 332.3 499.2 332.4 504.2 332.5 503.0 332.6 501.0 332.7 512.1 332.8 500.2 332.9 510.5 333.0 500.3 333.1 513.7 333.2 508.4 333.2 498.3 333.3 496.7 333.4 512.5 333.5 494.3 333.6 504.0 333.7 509.8 333.8 499.8 333.9 499.5 334.0 502.0 334.1 503.0 334.1 515.7 334.2 504.3 334.3 501.8 334.4 498.8 334.5 507.5 334.6 504.7 334.7 509.9 334.8 502.2 334.9 502.9 335.0 500.5 335.0 511.8 335.1 499.5 335.2 511.3 335.3 506.5 335.4 508.7 335.5 513.2 335.6 500.8 335.7 492.4 335.8 509.1 335.9 518.7 335.9 513.2 336.0 509.3 336.1 514.5 336.2 501.0 336.3 507.5 336.4 505.1 336.5 505.3 336.6 506.5 336.7 507.8 336.8 505.8 336.8 514.7 336.9 510.3 337.0 505.9 337.1 509.1 337.2 502.0 337.3 509.6 337.4 499.5 337.5 503.1 337.6 499.3 337.7 511.0 337.7 500.4 337.8 509.9 337.9 512.3 338.0 503.3 338.1 508.4 338.2 512.3 338.3 499.9 338.4 515.9 338.5 496.9 338.6 491.5 338.6 508.2 338.7 509.2 338.8 507.2 338.9 513.9 339.0 516.2 339.1 500.8 339.2 503.5 339.3 508.9 339.4 505.6 339.5 508.8 339.5 514.2 339.6 514.5 339.7 512.2 339.8 507.7 339.9 510.9 340.0 512.9 340.1 511.0 340.2 507.1 340.3 505.7 340.4 505.9 340.4 502.1 340.5 503.8 340.6 505.5 340.7 510.5 340.8 520.3 340.9 503.9 341.0 503.9 341.1 510.0 341.2 504.4 341.3 512.8 341.3 509.3 341.4 506.1 341.5 500.6 341.6 508.4 341.7 504.1 341.8 497.2 341.9 506.2 342.0 507.5 342.1 509.4 342.2 508.9 342.2 508.7 342.3 513.7 342.4 506.0 342.5 502.1 342.6 497.3 342.7 506.8 342.8 511.6 342.9 513.6 343.0 500.1 343.1 507.7 343.1 515.1 343.2 504.1 343.3 503.8 343.4 508.4 343.5 501.1 343.6 510.2 343.7 510.8 343.8 494.9 343.9 516.7 344.0 508.5 344.0 503.4 344.1 513.4 344.2 515.6 344.3 507.7 344.4 510.5 344.5 510.8 344.6 508.4 344.7 511.2 344.8 506.9 344.9 506.2 344.9 519.7 345.0 501.8 345.1 502.3 345.2 510.4 345.3 515.2 345.4 516.1 345.5 500.7 345.6 501.9 345.7 496.9 345.8 500.0 345.8 502.5 345.9 515.2 346.0 506.9 346.1 503.3 346.2 509.7 346.3 509.0 346.4 508.2 346.5 502.5 346.6 509.3 346.7 510.9 346.7 510.7 346.8 506.0 346.9 499.1 347.0 505.4 347.1 506.1 347.2 511.1 347.3 505.4 347.4 507.4 347.5 506.7 347.6 510.9 347.6 506.8 347.7 501.7 347.8 504.5 347.9 494.9 348.0 503.0 348.1 503.0 348.2 503.7 348.3 514.0 348.4 508.8 348.5 510.3 348.5 509.4 348.6 498.6 348.7 509.6 348.8 505.1 348.9 505.7 349.0 497.0 349.1 499.5 349.2 500.3 349.3 507.9 349.4 504.2 349.4 504.4 349.5 498.5 349.6 504.6 349.7 509.1 349.8 502.9 349.9 510.2 350.0 509.4 350.1 509.9 350.2 515.6 350.3 503.6 350.3 496.4 350.4 513.1 350.5 498.9 350.6 507.5 350.7 506.1 350.8 499.5 350.9 487.7 351.0 507.2 351.1 491.3 351.2 509.6 351.2 503.1 351.3 511.2 351.4 504.9 351.5 502.5 351.6 512.1 351.7 500.4 351.8 507.3 351.9 502.5 352.0 499.6 352.1 512.6 352.1 506.2 352.2 501.8 352.3 507.0 352.4 502.7 352.5 507.6 352.6 496.2 352.7 507.2 352.8 497.0 352.9 496.9 353.0 500.9 353.0 499.1 353.1 499.8 353.2 510.9 353.3 505.3 353.4 500.4 353.5 508.5 353.6 507.9 353.7 508.2 353.8 499.9 353.9 509.2 353.9 487.7 354.0 513.3 354.1 506.0 354.2 494.6 354.3 504.0 354.4 509.7 354.5 497.2 354.6 505.1 354.7 504.8 354.8 501.8 354.8 510.9 354.9 504.8 355.0 515.0 355.1 506.5 355.2 512.6 355.3 514.0 355.4 500.3 355.5 511.5 355.6 512.2 355.7 502.7 355.7 503.7 355.8 517.2 355.9 498.9 356.0 505.6 356.1 503.6 356.2 502.8 356.3 508.4 356.4 504.2 356.5 505.1 356.6 503.7 356.6 500.4 356.7 496.0 356.8 505.8 356.9 507.9 357.0 510.2 357.1 509.6 357.2 504.5 357.3 501.9 357.4 505.0 357.5 514.3 357.5 507.5 357.6 502.0 357.7 501.1 357.8 512.3 357.9 499.2 358.0 509.6 358.1 503.4 358.2 505.2 358.3 495.8 358.4 500.0 358.4 504.3 358.5 507.7 358.6 503.7 358.7 511.3 358.8 497.8 358.9 510.0 359.0 511.5 359.1 507.1 359.2 507.8 359.3 509.0 359.3 512.6 359.4 504.0 359.5 497.2 359.6 506.7 359.7 501.6 359.8 510.6 359.9 507.5 360.0 504.7 360.1 505.4 360.2 506.5 360.2 501.4 360.3 511.6 360.4 506.3 360.5 503.6 360.6 497.4 360.7 501.8 360.8 513.0 360.9 510.9 361.0 505.3 361.1 500.9 361.1 502.0 361.2 505.1 361.3 497.3 361.4 507.4 361.5 507.9 361.6 512.3 361.7 504.4 361.8 504.8 361.9 508.3 362.0 510.6 362.0 496.4 362.1 494.5 362.2 504.0 362.3 499.8 362.4 506.2 362.5 510.4 362.6 497.0 362.7 497.3 362.8 505.4 362.9 506.6 362.9 514.0 363.0 506.0 363.1 504.5 363.2 511.2 363.3 494.8 363.4 509.2 363.5 502.5 363.6 502.4 363.7 507.1 363.8 504.7 363.8 499.8 363.9 510.8 364.0 508.6 364.1 501.2 364.2 506.8 364.3 501.8 364.4 502.8 364.5 513.1 364.6 503.7 364.7 506.8 364.7 508.0 364.8 505.3 364.9 502.3 365.0 507.5 365.1 512.3 365.2 499.4 365.3 504.9 365.4 497.3 365.5 496.3 365.6 515.4 365.6 511.1 365.7 505.6 365.8 505.8 365.9 507.4 366.0 508.3 366.1 506.4 366.2 502.7 366.3 502.6 366.4 516.5 366.5 507.5 366.5 507.1 366.6 505.5 366.7 498.9 366.8 497.7 366.9 510.6 367.0 496.3 367.1 506.9 367.2 504.3 367.3 510.1 367.4 504.6 367.4 504.9 367.5 501.3 367.6 501.2 367.7 504.3 367.8 499.2 367.9 506.9 368.0 495.3 368.1 497.4 368.2 511.0 368.3 501.3 368.3 506.9 368.4 502.7 368.5 511.3 368.6 512.4 368.7 506.1 368.8 511.6 368.9 494.4 369.0 506.9 369.1 497.5 369.2 510.7 369.2 503.9 369.3 504.1 369.4 504.5 369.5 511.2 369.6 507.7 369.7 508.9 369.8 504.0 369.9 507.8 370.0 509.9 370.1 502.5 370.1 511.7 370.2 499.6 370.3 497.6 370.4 507.0 370.5 506.9 370.6 503.2 370.7 503.3 370.8 512.8 370.9 503.7 371.0 507.0 371.0 510.6 371.1 496.1 371.2 508.5 371.3 500.5 371.4 508.0 371.5 496.3 371.6 506.2 371.7 508.5 371.8 496.9 371.9 503.6 371.9 502.4 372.0 511.1 372.1 513.4 372.2 500.3 372.3 507.7 372.4 498.7 372.5 500.0 372.6 502.0 372.7 503.9 372.8 497.2 372.8 505.9 372.9 499.9 373.0 506.7 373.1 507.7 373.2 511.5 373.3 507.3 373.4 512.8 373.5 503.1 373.6 514.2 373.7 513.1 373.7 498.2 373.8 511.9 373.9 507.6 374.0 502.4 374.1 490.4 374.2 495.6 374.3 504.2 374.4 505.9 374.5 498.1 374.6 506.1 374.6 504.3 374.7 511.0 374.8 498.3 374.9 510.1 375.0 503.3 375.1 499.1 375.2 505.3 375.3 492.1 375.4 503.7 375.5 509.4 375.5 507.9 375.6 505.8 375.7 506.9 375.8 499.5 375.9 503.8 376.0 511.3 376.1 514.3 376.2 511.3 376.3 502.1 376.4 512.5 376.4 510.4 376.5 502.3 376.6 503.8 376.7 502.8 376.8 508.7 376.9 502.5 377.0 507.6 377.1 511.7 377.2 511.8 377.3 505.6 377.3 504.7 377.4 513.4 377.5 508.8 377.6 510.7 377.7 507.1 377.8 498.7 377.9 506.1 378.0 502.5 378.1 502.5 378.2 500.9 378.2 499.0 378.3 514.4 378.4 504.8 378.5 505.0 378.6 499.1 378.7 502.0 378.8 505.5 378.9 501.5 379.0 510.1 379.1 507.5 379.1 509.7 379.2 504.8 379.3 507.2 379.4 510.4 379.5 510.9 379.6 510.1 379.7 511.2 379.8 509.8 379.9 514.3 380.0 506.4 380.0 515.0 380.1 507.1 380.2 509.0 380.3 503.6 380.4 511.6 380.5 500.1 380.6 504.8 380.7 514.3 380.8 516.1 380.9 507.2 380.9 506.6 381.0 493.4 381.1 505.7 381.2 512.5 381.3 499.2 381.4 511.9 381.5 511.6 381.6 504.4 381.7 503.2 381.8 507.6 381.8 506.6 381.9 494.7 382.0 500.3 382.1 501.2 382.2 510.8 382.3 505.6 382.4 515.9 382.5 506.7 382.6 502.8 382.7 513.1 382.7 508.9 382.8 506.2 382.9 507.4 383.0 507.3 383.1 507.3 383.2 510.8 383.3 503.6 383.4 504.2 383.5 510.5 383.6 501.2 383.6 504.1 383.7 499.2 383.8 510.5 383.9 497.6 384.0 505.7 384.1 515.8 384.2 500.0 384.3 506.3 384.4 502.8 384.5 515.4 384.5 517.9 384.6 500.9 384.7 508.4 384.8 514.6 384.9 513.2 385.0 497.2 385.1 498.0 385.2 501.8 385.3 505.9 385.4 506.1 385.4 503.1 385.5 508.5 385.6 508.3 385.7 500.3 385.8 510.2 385.9 506.1 386.0 506.6 386.1 506.5 386.2 504.2 386.3 513.7 386.3 510.6 386.4 501.8 386.5 505.2 386.6 504.0 386.7 499.4 386.8 508.2 386.9 503.2 387.0 510.8 387.1 497.7 387.2 500.1 387.2 513.4 387.3 502.4 387.4 505.8 387.5 500.5 387.6 510.0 387.7 508.8 387.8 509.8 387.9 503.8 388.0 508.2 388.1 512.0 388.1 501.9 388.2 509.3 388.3 503.1 388.4 497.3 388.5 502.8 388.6 497.8 388.7 508.4 388.8 510.1 388.9 502.5 389.0 511.2 389.0 506.1 389.1 511.2 389.2 515.7 389.3 496.6 389.4 505.4 389.5 518.3 389.6 501.2 389.7 497.6 389.8 502.7 389.9 504.4 389.9 505.5 390.0 503.0 390.1 513.5 390.2 501.7 390.3 506.4 390.4 508.0 390.5 512.6 390.6 507.9 390.7 507.2 390.8 506.2 390.8 501.8 390.9 499.7 391.0 503.1 391.1 509.5 391.2 511.2 391.3 501.3 391.4 508.3 391.5 513.2 391.6 513.4 391.7 501.4 391.7 498.3 391.8 518.0 391.9 505.3 392.0 504.4 392.1 512.1 392.2 514.8 392.3 503.4 392.4 505.6 392.5 505.3 392.6 504.2 392.6 495.2 392.7 515.5 392.8 500.8 392.9 505.0 393.0 502.1 393.1 505.0 393.2 509.9 393.3 500.5 393.4 514.3 393.5 493.0 393.5 505.0 393.6 504.0 393.7 510.0 393.8 505.5 393.9 499.1 394.0 508.7 394.1 508.5 394.2 502.0 394.3 503.7 394.4 500.1 394.4 500.5 394.5 501.4 394.6 503.2 394.7 501.1 394.8 502.1 394.9 518.2 395.0 504.6 395.1 506.7 395.2 511.9 395.3 511.2 395.3 510.8 395.4 506.1 395.5 502.5 395.6 506.4 395.7 504.8 395.8 510.3 395.9 505.5 396.0 509.3 396.1 502.4 396.2 513.7 396.2 509.8 396.3 504.7 396.4 504.2 396.5 505.8 396.6 507.7 396.7 497.8 396.8 503.3 396.9 501.6 397.0 504.7 397.1 511.4 397.1 501.6 397.2 504.0 397.3 501.3 397.4 507.9 397.5 497.7 397.6 514.2 397.7 513.5 397.8 504.7 397.9 496.4 398.0 507.0 398.0 500.6 398.1 505.7 398.2 514.6 398.3 499.9 398.4 502.8 398.5 502.3 398.6 507.5 398.7 508.7 398.8 503.3 398.9 511.0 398.9 502.3 399.0 511.2 399.1 504.8 399.2 509.7 399.3 500.5 399.4 506.5 399.5 510.4 399.6 501.8 399.7 513.7 399.8 508.7 399.8 497.6 399.9 503.5 400.0 506.4 400.1 523.9 400.2 502.7 400.3 501.4 400.4 507.5 400.5 508.1 400.6 501.4 400.7 501.4 400.7 501.9 400.8 510.9 400.9 504.8 401.0 504.8 401.1 505.7 401.2 506.8 401.3 505.6 401.4 502.4 401.5 506.0 401.6 504.4 401.6 500.7 401.7 501.0 401.8 502.0 401.9 512.3 402.0 512.6 402.1 503.6 402.2 515.1 402.3 500.1 402.4 511.1 402.5 509.5 402.5 501.9 402.6 505.2 402.7 497.2 402.8 504.9 402.9 503.2 403.0 499.6 403.1 504.8 403.2 503.9 403.3 512.6 403.4 498.0 403.4 509.3 403.5 509.0 403.6 503.9 403.7 505.8 403.8 503.6 403.9 505.8 404.0 514.2 404.1 507.3 404.2 501.3 404.3 513.1 404.3 511.4 404.4 502.0 404.5 512.6 404.6 509.5 404.7 510.5 404.8 510.5 404.9 500.0 405.0 517.0 405.1 509.1 405.2 501.7 405.2 507.2 405.3 507.0 405.4 507.2 405.5 503.8 405.6 513.6 405.7 516.0 405.8 505.1 405.9 496.1 406.0 492.4 406.1 509.5 406.1 500.3 406.2 506.2 406.3 508.5 406.4 501.4 406.5 504.4 406.6 507.7 406.7 509.8 406.8 505.4 406.9 509.4 407.0 513.0 407.0 506.1 407.1 506.1 407.2 512.7 407.3 511.0 407.4 503.2 407.5 506.7 407.6 507.2 407.7 507.9 407.8 509.4 407.9 503.0 407.9 510.1 408.0 503.5 408.1 509.9 408.2 511.1 408.3 515.8 408.4 507.6 408.5 504.5 408.6 505.8 408.7 505.2 408.8 505.6 408.8 502.0 408.9 507.8 409.0 512.7 409.1 503.8 409.2 503.2 409.3 506.3 409.4 513.9 409.5 508.9 409.6 499.4 409.7 507.3 409.7 502.1 409.8 509.3 409.9 509.1 410.0 512.0 410.1 506.3 410.2 499.6 410.3 510.8 410.4 504.6 410.5 504.9 410.6 514.6 410.6 504.6 410.7 505.8 410.8 509.7 410.9 507.9 411.0 507.7 411.1 510.8 411.2 508.7 411.3 505.7 411.4 510.5 411.5 504.0 411.5 501.5 411.6 507.1 411.7 502.5 411.8 508.8 411.9 514.4 412.0 507.1 412.1 511.0 412.2 510.5 412.3 513.3 412.4 506.3 412.4 510.5 412.5 498.4 412.6 507.3 412.7 498.0 412.8 508.3 412.9 504.3 413.0 513.6 413.1 517.0 413.2 524.9 413.3 516.1 413.3 507.5 413.4 513.5 413.5 505.7 413.6 512.4 413.7 512.0 413.8 506.5 413.9 519.0 414.0 514.3 414.1 512.0 414.2 514.8 414.2 524.8 414.3 500.9 414.4 502.9 414.5 511.6 414.6 511.9 414.7 507.3 414.8 511.1 414.9 499.6 415.0 501.6 415.1 502.3 415.1 516.8 415.2 506.0 415.3 505.2 415.4 501.4 415.5 503.0 415.6 503.7 415.7 513.6 415.8 516.4 415.9 509.2 416.0 505.5 416.0 515.6 416.1 495.7 416.2 508.5 416.3 506.4 416.4 497.0 416.5 515.2 416.6 513.5 416.7 506.7 416.8 510.0 416.9 502.9 416.9 513.8 417.0 500.8 417.1 506.2 417.2 515.0 417.3 502.2 417.4 506.1 417.5 502.6 417.6 500.5 417.7 512.4 417.8 498.6 417.8 500.7 417.9 500.7 418.0 516.4 418.1 500.3 418.2 504.8 418.3 513.1 418.4 501.7 418.5 516.5 418.6 509.7 418.7 506.0 418.7 506.1 418.8 497.8 418.9 507.7 419.0 510.0 419.1 505.1 419.2 499.2 419.3 513.6 419.4 501.7 419.5 517.6 419.6 508.4 419.6 510.6 419.7 510.8 419.8 506.8 419.9 507.6 420.0 513.8 420.1 503.8 420.2 509.3 420.3 507.8 420.4 506.8 420.5 509.0 420.5 502.4 420.6 506.1 420.7 492.8 420.8 502.6 420.9 503.7 421.0 509.2 421.1 504.9 421.2 513.9 421.3 497.2 421.4 506.7 421.4 500.8 421.5 500.5 421.6 498.1 421.7 502.7 421.8 511.6 421.9 497.3 422.0 504.5 422.1 502.5 422.2 510.7 422.3 509.4 422.3 506.6 422.4 510.2 422.5 505.9 422.6 517.4 422.7 514.3 422.8 500.9 422.9 505.1 423.0 508.7 423.1 497.9 423.2 504.4 423.2 510.9 423.3 499.0 423.4 505.1 423.5 499.3 423.6 508.0 423.7 497.0 423.8 503.0 423.9 503.7 424.0 508.1 424.1 504.2 424.1 500.7 424.2 514.4 424.3 504.4 424.4 509.8 424.5 498.0 424.6 500.6 424.7 499.8 424.8 509.1 424.9 507.0 425.0 499.6 425.0 508.2 425.1 497.9 425.2 500.9 425.3 498.1 425.4 504.5 425.5 514.7 425.6 505.4 425.7 507.4 425.8 511.8 425.9 510.4 425.9 517.3 426.0 506.0 426.1 499.0 426.2 501.9 426.3 513.5 426.4 507.3 426.5 502.9 426.6 516.5 426.7 518.6 426.8 500.5 426.8 500.1 426.9 503.6 427.0 502.2 427.1 511.9 427.2 495.0 427.3 506.3 427.4 511.7 427.5 497.0 427.6 504.3 427.7 500.7 427.7 501.7 427.8 510.6 427.9 511.4 428.0 511.4 428.1 517.0 428.2 512.5 428.3 505.3 428.4 510.0 428.5 499.7 428.6 506.1 428.6 515.1 428.7 507.3 428.8 510.1 428.9 511.1 429.0 499.4 429.1 519.4 429.2 509.8 429.3 507.4 429.4 516.2 429.5 502.9 429.5 497.3 429.6 503.1 429.7 516.1 429.8 514.4 429.9 513.2 430.0 509.0 430.1 509.3 430.2 512.9 430.3 506.3 430.4 509.3 430.4 508.9 430.5 509.4 430.6 501.4 430.7 508.9 430.8 508.3 430.9 510.4 431.0 506.6 431.1 514.7 431.2 514.3 431.3 499.8 431.3 503.8 431.4 509.3 431.5 494.1 431.6 497.9 431.7 512.1 431.8 515.9 431.9 519.5 432.0 509.7 432.1 508.1 432.2 506.3 432.2 507.7 432.3 512.2 432.4 510.4 432.5 508.7 432.6 508.7 432.7 500.0 432.8 506.8 432.9 512.5 433.0 509.6 433.1 507.8 433.1 512.6 433.2 506.5 433.3 514.8 433.4 513.0 433.5 509.1 433.6 508.8 433.7 509.4 433.8 515.3 433.9 505.9 434.0 512.4 434.0 504.1 434.1 503.6 434.2 507.1 434.3 517.3 434.4 506.1 434.5 507.0 434.6 510.9 434.7 506.7 434.8 510.6 434.9 513.7 434.9 503.3 435.0 515.7 435.1 510.5 435.2 500.0 435.3 506.1 435.4 506.6 435.5 512.0 435.6 504.4 435.7 508.4 435.8 510.2 435.8 503.8 435.9 498.0 436.0 504.6 436.1 510.5 436.2 515.7 436.3 508.8 436.4 509.7 436.5 509.8 436.6 508.1 436.7 510.0 436.7 510.3 436.8 516.4 436.9 505.9 437.0 512.6 437.1 504.3 437.2 505.4 437.3 514.4 437.4 511.6 437.5 503.5 437.6 507.3 437.6 509.3 437.7 498.8 437.8 505.1 437.9 512.8 438.0 510.1 438.1 506.3 438.2 500.0 438.3 514.6 438.4 513.6 438.5 506.7 438.5 514.7 438.6 506.6 438.7 502.7 438.8 509.5 438.9 506.8 439.0 509.4 439.1 502.0 439.2 504.5 439.3 506.5 439.4 507.8 439.4 511.9 439.5 511.4 439.6 506.4 439.7 503.4 439.8 514.0 439.9 510.3 440.0 514.0 440.1 522.3 440.2 503.6 440.3 512.1 440.3 498.9 440.4 514.0 440.5 508.9 440.6 506.7 440.7 514.8 440.8 512.2 440.9 514.0 441.0 513.7 441.1 506.4 441.2 508.3 441.2 510.3 441.3 498.9 441.4 505.9 441.5 504.0 441.6 506.6 441.7 509.9 441.8 504.5 441.9 506.8 442.0 505.8 442.1 513.0 442.1 518.5 442.2 505.3 442.3 512.9 442.4 515.3 442.5 508.5 442.6 503.8 442.7 506.5 442.8 509.4 442.9 512.3 443.0 515.0 443.0 512.2 443.1 502.4 443.2 498.2 443.3 517.9 443.4 516.6 443.5 506.4 443.6 504.8 443.7 509.2 443.8 508.0 443.9 505.9 443.9 510.2 444.0 515.8 444.1 514.5 444.2 508.5 444.3 514.0 444.4 509.1 444.5 511.6 444.6 518.5 444.7 511.3 444.8 506.5 444.8 519.5 444.9 499.7 445.0 510.1 445.1 512.4 445.2 506.3 445.3 510.7 445.4 504.4 445.5 517.0 445.6 511.9 445.7 510.8 445.7 511.2 445.8 512.7 445.9 503.5 446.0 501.4 446.1 509.7 446.2 514.9 446.3 513.9 446.4 512.9 446.5 506.1 446.6 520.3 446.6 502.9 446.7 518.9 446.8 509.8 446.9 514.0 447.0 511.5 447.1 507.1 447.2 519.8 447.3 510.5 447.4 509.1 447.5 515.0 447.5 518.8 447.6 507.5 447.7 507.3 447.8 516.6 447.9 514.1 448.0 515.6 448.1 506.4 448.2 514.7 448.3 497.0 448.4 509.7 448.4 508.5 448.5 501.8 448.6 505.8 448.7 515.2 448.8 516.2 448.9 515.6 449.0 519.7 449.1 519.1 449.2 523.9 449.3 508.1 449.3 505.2 449.4 508.0 449.5 507.3 449.6 508.7 449.7 518.1 449.8 499.7 449.9 505.2 450.0 506.4 450.1 503.2 450.2 511.9 450.2 509.7 450.3 508.1 450.4 514.0 450.5 516.3 450.6 499.2 450.7 513.2 450.8 515.1 450.9 509.8 451.0 513.4 451.1 506.0 451.1 490.9 451.2 511.7 451.3 512.5 451.4 505.6 451.5 511.1 451.6 500.2 451.7 513.1 451.8 500.5 451.9 498.9 452.0 511.2 452.0 499.9 452.1 523.8 452.2 510.6 452.3 505.9 452.4 508.0 452.5 507.3 452.6 508.1 452.7 512.9 452.8 510.6 452.9 502.9 452.9 510.9 453.0 509.9 453.1 505.0 453.2 501.4 453.3 519.4 453.4 506.9 453.5 511.0 453.6 499.7 453.7 499.8 453.8 511.5 453.8 509.7 453.9 511.8 454.0 513.4 454.1 521.6 454.2 520.4 454.3 512.2 454.4 515.1 454.5 509.7 454.6 518.3 454.7 506.9 454.7 517.3 454.8 508.1 454.9 507.0 455.0 515.2 455.1 510.6 455.2 513.1 455.3 509.5 455.4 497.6 455.5 507.8 455.6 506.6 455.6 504.0 455.7 510.3 455.8 517.8 455.9 516.9 456.0 506.9 456.1 510.6 456.2 505.1 456.3 510.3 456.4 512.9 456.5 506.2 456.5 524.7 456.6 511.9 456.7 515.0 456.8 518.5 456.9 507.2 457.0 514.8 457.1 506.2 457.2 512.8 457.3 524.6 457.4 508.4 457.4 502.9 457.5 501.4 457.6 514.8 457.7 513.9 457.8 504.2 457.9 513.0 458.0 514.3 458.1 505.0 458.2 508.7 458.3 499.3 458.3 504.2 458.4 506.6 458.5 514.0 458.6 515.3 458.7 510.0 458.8 514.9 458.9 518.8 459.0 522.3 459.1 517.4 459.2 506.3 459.2 506.6 459.3 517.5 459.4 508.7 459.5 503.4 459.6 517.9 459.7 514.4 459.8 506.6 459.9 514.7 460.0 501.1 460.1 518.8 460.1 509.6 460.2 507.4 460.3 513.2 460.4 504.5 460.5 515.8 460.6 513.0 460.7 518.5 460.8 503.2 460.9 502.6 461.0 516.3 461.0 507.4 461.1 502.3 461.2 508.9 461.3 515.7 461.4 510.4 461.5 504.7 461.6 504.8 461.7 510.2 461.8 509.5 461.9 514.4 461.9 509.6 462.0 511.6 462.1 511.5 462.2 510.9 462.3 507.4 462.4 507.4 462.5 509.7 462.6 505.5 462.7 502.4 462.8 507.8 462.8 506.8 462.9 500.8 463.0 510.0 463.1 512.1 463.2 513.8 463.3 508.9 463.4 502.9 463.5 510.8 463.6 503.3 463.7 504.9 463.7 516.8 463.8 508.2 463.9 507.2 464.0 505.3 464.1 512.4 464.2 504.4 464.3 512.1 464.4 504.6 464.5 501.6 464.6 518.0 464.6 501.1 464.7 506.1 464.8 508.9 464.9 519.0 465.0 512.5 465.1 506.1 465.2 498.0 465.3 511.0 465.4 504.4 465.5 508.3 465.5 513.0 465.6 508.5 465.7 511.1 465.8 503.6 465.9 506.6 466.0 511.4 466.1 508.9 466.2 509.7 466.3 507.4 466.4 510.2 466.4 517.9 466.5 502.3 466.6 502.8 466.7 517.8 466.8 504.5 466.9 500.0 467.0 510.3 467.1 504.2 467.2 512.3 467.3 507.6 467.3 513.0 467.4 505.9 467.5 511.3 467.6 507.1 467.7 512.0 467.8 506.9 467.9 509.5 468.0 500.2 468.1 517.0 468.2 503.5 468.2 503.9 468.3 514.6 468.4 500.1 468.5 507.8 468.6 511.0 468.7 516.8 468.8 512.2 468.9 504.3 469.0 512.2 469.1 510.1 469.1 497.7 469.2 504.6 469.3 516.1 469.4 506.6 469.5 499.6 469.6 517.5" fill="none" stroke="#1572bd" stroke-width="0.5" stroke-linejoin="round"/>
<path d="M41.2 638.9 41.5 639.2 41.7 638.9 42.0 638.8 42.2 638.6 42.5 638.8 42.7 639.3 43.0 639.1 43.2 639.3 43.5 639.0 43.7 639.0 44.0 638.9 44.2 638.1 44.5 639.1 44.7 639.0 45.0 639.0 45.2 638.1 45.5 638.0 45.7 638.4 46.0 638.5 46.2 638.8 46.5 638.6 46.7 638.9 47.0 638.4 47.2 638.7 47.5 638.8 47.7 638.3 48.0 639.3 48.2 638.8 48.5 639.0 48.7 638.3 49.0 638.2 49.2 638.4 49.5 638.4 49.7 638.7 50.0 638.6 50.2 638.3 50.5 638.0 50.7 638.2 51.0 638.9 51.2 638.1 51.5 638.5 51.7 638.5 52.0 637.7 52.2 638.3 52.5 638.8 52.7 637.5 53.0 638.2 53.2 638.2 53.5 637.9 53.7 638.4 54.0 638.2 54.2 637.6 54.5 638.5 54.7 638.4 55.0 638.5 55.2 638.7 55.5 638.3 55.7 638.2 56.0 637.6 56.2 638.3 56.5 637.8 56.7 637.9 57.0 637.5 57.2 637.7 57.5 637.8 57.7 638.5 58.0 637.2 58.2 637.4 58.5 638.1 58.7 638.5 59.0 638.2 59.2 637.2 59.5 636.9 59.7 638.0 60.0 637.6 60.2 637.4 60.5 638.3 60.7 638.3 61.0 637.9 61.2 637.9 61.5 638.0 61.7 638.4 62.0 638.0 62.2 638.0 62.5 638.0 62.7 637.1 63.0 638.2 63.2 638.1 63.5 637.9 63.7 636.9 64.0 637.4 64.2 638.0 64.5 636.9 64.7 637.6 65.0 638.0 65.2 637.1 65.5 638.3 65.7 637.8 66.0 637.5 66.2 637.7 66.5 637.8 66.7 637.6 67.0 638.0 67.2 637.3 67.5 637.3 67.7 637.9 68.0 637.5 68.2 637.1 68.5 637.8 68.7 638.0 69.0 637.3 69.2 636.9 69.5 637.4 69.7 637.3 70.0 637.3 70.2 637.9 70.5 637.0 70.7 637.9 71.0 636.8 71.2 637.0 71.5 637.6 71.7 637.8 72.0 637.6 72.2 637.4 72.5 637.3 72.7 637.3 73.0 637.5 73.2 637.2 73.5 637.3 73.7 637.4 74.0 637.2 74.2 637.5 74.5 637.4 74.7 638.0 75.0 637.3 75.2 637.0 75.5 637.0 75.7 637.1 76.0 637.5 76.2 637.0 76.5 637.2 76.7 637.8 77.0 636.0 77.2 636.6 77.5 637.1 77.7 637.2 78.0 637.1 78.2 636.8 78.5 637.3 78.7 637.1 79.0 636.8 79.2 637.9 79.5 637.1 79.7 636.7 80.0 636.9 80.2 636.8 80.5 636.9 80.7 635.8 81.0 636.7 81.2 637.3 81.5 636.4 81.7 636.8 82.0 637.2 82.2 637.2 82.5 637.4 82.7 636.1 83.0 636.7 83.2 636.7 83.5 637.0 83.7 637.2 84.0 635.7 84.2 637.2 84.5 636.2 84.7 637.0 85.0 636.1 85.2 636.8 85.5 637.2 85.7 636.6 86.0 636.8 86.2 637.0 86.5 636.7 86.7 636.6 87.0 637.3 87.2 637.1 87.5 636.5 87.7 637.7 88.0 636.2 88.2 637.0 88.5 636.5 88.7 636.6 89.0 636.9 89.2 636.7 89.5 636.8 89.7 635.9 90.0 635.9 90.2 636.8 90.5 636.1 90.7 636.1 91.0 635.9 91.2 637.0 91.5 636.8 91.7 637.1 92.0 636.1 92.2 636.5 92.5 636.0 92.7 636.7 93.0 637.1 93.2 636.1 93.5 637.0 93.7 636.8 94.0 636.3 94.2 635.6 94.5 636.9 94.7 636.3 95.0 636.1 95.2 636.5 95.5 636.5 95.7 636.9 96.0 635.9 96.2 636.8 96.5 636.9 96.7 636.9 97.0 636.2 97.2 636.0 97.5 636.7 97.7 636.3 98.0 636.3 98.2 636.8 98.5 636.1 98.7 635.3 99.0 636.1 99.2 635.5 99.5 636.5 99.7 636.3 100.0 635.9 100.2 636.2 100.5 636.5 100.7 636.2 101.0 636.7 101.2 636.1 101.5 636.5 101.7 636.7 102.0 636.8 102.2 635.8 102.5 636.5 102.7 635.3 103.0 635.6 103.2 635.3 103.5 636.5 103.7 635.6 104.0 636.0 104.2 636.0 104.5 636.0 104.7 635.8 105.0 636.1 105.2 636.7 105.5 636.0 105.7 636.2 106.0 636.4 106.2 635.9 106.5 635.5 106.7 635.7 107.0 636.4 107.2 635.3 107.5 635.7 107.7 636.3 108.0 636.2 108.2 635.9 108.5 636.2 108.7 636.0 109.0 635.4 109.2 635.3 109.5 635.6 109.7 636.2 110.0 635.6 110.2 635.5 110.5 635.5 110.7 635.2 111.0 635.8 111.2 635.4 111.5 636.0 111.7 634.9 112.0 635.9 112.2 635.5 112.5 635.0 112.7 636.1 113.0 635.7 113.2 634.9 113.5 635.4 113.7 635.9 114.0 635.6 114.2 636.0 114.5 636.0 114.7 636.0 115.0 635.8 115.2 636.2 115.5 636.0 115.7 635.9 116.0 634.9 116.2 636.0 116.5 636.2 116.7 635.5 117.0 635.5 117.2 636.4 117.5 634.9 117.7 635.8 118.0 636.6 118.2 635.3 118.5 635.9 118.7 636.4 119.0 635.6 119.2 635.8 119.5 636.0 119.7 635.2 120.0 635.5 120.2 635.7 120.5 635.9 120.7 635.5 121.0 635.5 121.2 635.1 121.5 635.4 121.7 635.9 122.0 635.6 122.2 635.2 122.5 635.2 122.7 636.6 123.0 636.0 123.2 635.7 123.5 634.4 123.7 635.7 124.0 635.7 124.2 636.1 124.5 635.6 124.7 635.4 125.0 635.7 125.2 634.7 125.5 635.8 125.7 635.6 126.0 635.1 126.2 635.9 126.5 636.1 126.7 634.8 127.0 635.1 127.2 635.5 127.5 635.5 127.7 635.2 128.0 635.0 128.2 636.2 128.4 635.8 128.7 634.9 128.9 634.8 129.2 636.0 129.4 635.7 129.7 636.1 129.9 635.6 130.2 635.0 130.4 635.4 130.7 634.4 130.9 635.0 131.2 635.3 131.4 635.5 131.7 635.0 131.9 635.2 132.2 635.4 132.4 635.4 132.7 635.5 132.9 635.3 133.2 635.1 133.4 635.6 133.7 635.3 133.9 634.9 134.2 635.0 134.4 635.2 134.7 635.2 134.9 635.3 135.2 635.2 135.4 635.3 135.7 635.1 135.9 634.7 136.2 635.3 136.4 635.6 136.7 635.3 136.9 635.1 137.2 635.3 137.4 634.8 137.7 634.4 137.9 635.2 138.2 634.8 138.4 635.4 138.7 634.7 138.9 634.1 139.2 634.7 139.4 635.7 139.7 634.9 139.9 634.5 140.2 634.8 140.4 635.3 140.7 635.3 140.9 635.1 141.2 635.7 141.4 635.3 141.7 635.0 141.9 635.3 142.2 635.7 142.4 635.4 142.7 635.4 142.9 634.6 143.2 635.0 143.4 635.3 143.7 634.9 143.9 635.4 144.2 635.2 144.4 635.4 144.7 634.9 144.9 636.0 145.2 635.5 145.4 634.9 145.7 635.0 145.9 636.0 146.2 634.8 146.4 635.3 146.7 635.3 146.9 634.9 147.2 634.5 147.4 635.0 147.7 635.1 147.9 635.4 148.2 635.2 148.4 634.9 148.7 635.3 148.9 635.1 149.2 635.0 149.4 634.9 149.7 634.8 149.9 635.2 150.2 634.5 150.4 634.6 150.7 634.9 150.9 634.3 151.2 634.7 151.4 634.1 151.7 634.6 151.9 635.1 152.2 635.1 152.4 634.8 152.7 634.7 152.9 634.3 153.2 635.6 153.4 635.0 153.7 635.3 153.9 634.5 154.2 634.7 154.4 634.1 154.7 635.1 154.9 635.2 155.2 634.0 155.4 634.8 155.7 635.0 155.9 634.1 156.2 634.0 156.4 634.3 156.7 634.5 156.9 634.2 157.2 634.8 157.4 634.8 157.7 635.0 157.9 635.0 158.2 635.3 158.4 635.2 158.7 634.2 158.9 634.5 159.2 634.3 159.4 634.3 159.7 634.7 159.9 634.7 160.2 634.9 160.4 634.1 160.7 634.2 160.9 634.7 161.2 634.6 161.4 634.6 161.7 634.6 161.9 634.4 162.2 634.9 162.4 634.8 162.7 634.6 162.9 634.4 163.2 634.6 163.4 633.6 163.7 634.2 163.9 634.7 164.2 634.0 164.4 634.7 164.7 634.7 164.9 634.1 165.2 634.5 165.4 634.5 165.7 634.8 165.9 634.8 166.2 634.6 166.4 634.3 166.7 634.5 166.9 634.6 167.2 634.9 167.4 634.7 167.7 634.3 167.9 634.0 168.2 634.4 168.4 634.3 168.7 634.1 168.9 634.5 169.2 634.4 169.4 634.6 169.7 634.8 169.9 634.4 170.2 635.5 170.4 634.4 170.7 635.0 170.9 634.6 171.2 635.0 171.4 633.6 171.7 634.2 171.9 634.6 172.2 634.7 172.4 635.4 172.7 634.6 172.9 635.0 173.2 634.8 173.4 634.9 173.7 634.7 173.9 634.4 174.2 634.7 174.4 634.0 174.7 634.9 174.9 634.1 175.2 634.6 175.4 635.3 175.7 634.4 175.9 634.5 176.2 634.9 176.4 634.5 176.7 634.1 176.9 634.5 177.2 634.7 177.4 634.7 177.7 634.1 177.9 635.1 178.2 635.1 178.4 634.4 178.7 634.5 178.9 634.2 179.2 635.0 179.4 634.1 179.7 634.7 179.9 634.2 180.2 634.1 180.4 634.7 180.7 634.9 180.9 634.4 181.2 634.1 181.4 634.7 181.7 634.4 181.9 634.5 182.2 635.0 182.4 634.8 182.7 634.1 182.9 635.3 183.2 634.4 183.4 634.7 183.7 634.1 183.9 634.3 184.2 633.6 184.4 635.0 184.7 634.9 184.9 633.8 185.2 633.7 185.4 633.7 185.7 634.8 185.9 634.1 186.2 634.3 186.4 634.2 186.7 634.3 186.9 633.9 187.2 634.3 187.4 633.7 187.7 634.3 187.9 634.4 188.2 634.5 188.4 634.2 188.7 633.9 188.9 634.3 189.2 634.1 189.4 634.9 189.7 634.6 189.9 634.2 190.2 634.1 190.4 634.0 190.7 633.9 190.9 634.1 191.2 634.4 191.4 634.5 191.7 634.5 191.9 635.1 192.2 634.0 192.4 634.2 192.7 635.3 192.9 633.5 193.2 634.0 193.4 634.3 193.7 634.3 193.9 634.4 194.2 634.1 194.4 634.4 194.7 634.2 194.9 634.5 195.2 633.4 195.4 633.8 195.7 634.2 195.9 633.8 196.2 633.8 196.4 634.4 196.7 633.9 196.9 634.4 197.2 634.5 197.4 634.3 197.7 634.4 197.9 634.1 198.2 633.6 198.4 634.2 198.7 634.3 198.9 633.9 199.2 634.1 199.4 634.5 199.7 633.8 199.9 634.4 200.2 634.9 200.4 633.9 200.7 634.2 200.9 634.1 201.2 634.8 201.4 634.3 201.7 634.5 201.9 633.9 202.2 634.1 202.4 634.1 202.7 633.4 202.9 634.7 203.2 634.5 203.4 633.4 203.7 634.4 203.9 634.1 204.2 634.3 204.4 634.2 204.7 633.5 204.9 634.0 205.2 634.7 205.4 633.9 205.7 633.7 205.9 633.5 206.2 633.6 206.4 634.2 206.7 634.8 206.9 634.2 207.2 634.2 207.4 635.0 207.7 633.9 207.9 633.8 208.2 634.3 208.4 634.3 208.7 633.7 208.9 633.6 209.2 634.2 209.4 634.1 209.7 633.5 209.9 634.0 210.2 633.8 210.4 634.2 210.7 634.0 210.9 634.0 211.2 633.9 211.4 634.5 211.7 634.6 211.9 633.9 212.2 634.4 212.4 633.7 212.7 634.0 212.9 634.3 213.2 634.6 213.4 633.9 213.7 634.0 213.9 634.1 214.2 633.4 214.4 634.0 214.7 633.7 214.9 634.1 215.2 633.5 215.4 633.2 215.7 634.0 215.9 634.1 216.2 633.8 216.4 634.3 216.7 633.9 216.9 633.7 217.2 634.2 217.4 633.3 217.7 633.7 217.9 634.0 218.2 634.3 218.4 633.9 218.7 634.1 218.9 633.7 219.2 634.1 219.4 634.6 219.7 633.7 219.9 634.9 220.2 633.7 220.4 634.0 220.7 634.0 220.9 634.4 221.2 633.4 221.4 633.1 221.7 634.2 221.9 634.3 222.2 634.2 222.4 635.0 222.7 634.0 222.9 634.0 223.2 634.3 223.4 634.1 223.7 634.6 223.9 633.4 224.2 633.8 224.4 632.5 224.7 634.2 224.9 633.8 225.2 634.3 225.4 634.8 225.7 633.9 225.9 633.8 226.2 633.7 226.4 633.6 226.7 633.6 226.9 634.1 227.2 633.9 227.4 633.9 227.7 633.8 227.9 634.2 228.2 634.1 228.4 633.8 228.7 634.1 228.9 633.8 229.2 633.4 229.4 634.5 229.7 634.1 229.9 633.5 230.2 634.3 230.4 634.0 230.7 633.2 230.9 634.5 231.2 634.0 231.4 634.2 231.7 633.9 231.9 633.8 232.2 633.2 232.4 634.2 232.7 633.9 232.9 633.7 233.2 634.0 233.4 633.9 233.7 634.1 233.9 633.7 234.2 633.8 234.4 633.0 234.7 633.7 234.9 634.1 235.2 634.4 235.4 633.7 235.7 633.8 235.9 634.5 236.2 633.7 236.4 634.1 236.7 634.5 236.9 633.8 237.2 634.3 237.4 633.5 237.7 633.9 237.9 633.8 238.2 633.9 238.4 634.3 238.7 634.8 238.9 633.5 239.2 633.6 239.4 634.0 239.7 633.4 239.9 634.0 240.2 634.0 240.4 633.7 240.7 634.0 240.9 633.2 241.2 634.1 241.4 633.2 241.7 633.5 241.9 633.6 242.2 633.6 242.4 634.1 242.7 633.8 242.9 633.6 243.2 634.0 243.4 634.4 243.7 633.8 243.9 633.9 244.2 634.3 244.4 633.9 244.7 633.2 244.9 634.8 245.2 634.6 245.4 633.0 245.7 633.7 245.9 633.9 246.2 634.1 246.4 634.0 246.7 633.6 246.9 633.3 247.2 633.8 247.4 634.2 247.7 633.3 247.9 633.3 248.2 633.7 248.4 633.0 248.7 633.6 248.9 633.6 249.2 633.9 249.4 633.4 249.7 633.4 249.9 633.6 250.2 633.7 250.4 633.5 250.7 633.7 250.9 634.0 251.2 634.2 251.4 634.4 251.7 633.4 251.9 633.5 252.2 632.7 252.4 634.5 252.7 633.4 252.9 633.7 253.2 633.9 253.4 633.2 253.7 633.9 253.9 633.7 254.2 633.0 254.4 633.8 254.7 634.2 254.9 632.9 255.2 634.0 255.4 633.8 255.7 633.9 255.9 633.9 256.2 634.2 256.4 633.6 256.7 634.0 256.9 633.5 257.2 634.0 257.4 633.4 257.7 633.6 257.9 634.4 258.2 633.9 258.4 633.6 258.7 633.2 258.9 633.4 259.2 633.7 259.4 634.0 259.7 633.8 259.9 633.9 260.2 633.6 260.4 634.2 260.7 633.5 260.9 633.4 261.2 634.0 261.4 633.7 261.7 633.5 261.9 633.4 262.2 633.6 262.4 633.9 262.7 633.8 262.9 633.2 263.2 633.8 263.4 633.7 263.7 633.2 263.9 634.0 264.2 633.5 264.4 633.5 264.7 634.0 264.9 634.2 265.2 633.4 265.4 633.8 265.7 633.3 265.9 634.6 266.2 633.4 266.4 634.1 266.7 633.4 266.9 634.0 267.2 634.5 267.4 632.6 267.7 633.5 267.9 633.8 268.2 633.6 268.4 633.4 268.7 634.5 268.9 633.7 269.2 633.0 269.4 634.0 269.7 632.9 269.9 634.1 270.2 633.4 270.4 633.7 270.7 634.1 270.9 633.7 271.2 633.1 271.4 632.9 271.7 634.1 271.9 633.9 272.2 633.3 272.4 633.9 272.7 633.8 272.9 633.9 273.2 632.7 273.4 633.5 273.7 634.0 273.9 633.9 274.2 633.9 274.4 632.6 274.7 633.7 274.9 633.8 275.2 634.6 275.4 633.2 275.7 633.5 275.9 633.6 276.2 633.9 276.4 633.4 276.7 634.0 276.9 633.3 277.2 633.7 277.4 633.4 277.7 633.6 277.9 633.3 278.2 632.9 278.4 634.0 278.7 633.7 278.9 633.3 279.2 633.7 279.4 634.0 279.7 633.2 279.9 633.5 280.2 633.8 280.4 633.8 280.7 633.4 280.9 632.7 281.2 634.1 281.4 633.7 281.7 633.6 281.9 633.4 282.2 633.7 282.4 633.4 282.7 633.1 282.9 633.3 283.2 633.3 283.4 633.3 283.7 633.1 283.9 633.8 284.2 633.0 284.4 633.8 284.7 633.1 284.9 633.7 285.2 634.1 285.4 633.6 285.7 633.3 285.9 633.6 286.2 633.6 286.4 632.8 286.7 633.3 286.9 633.6 287.2 633.3 287.4 633.6 287.7 633.8 287.9 633.8 288.2 633.9 288.4 633.8 288.7 633.4 288.9 633.5 289.2 633.4 289.4 633.4 289.7 633.5 289.9 632.8 290.2 633.4 290.4 633.5 290.7 633.1 290.9 633.5 291.2 633.7 291.4 633.5 291.7 634.3 291.9 632.5 292.2 633.4 292.4 632.8 292.7 633.9 292.9 634.6 293.2 632.5 293.4 633.6 293.7 633.7 293.9 633.4 294.2 633.7 294.4 632.6 294.7 633.8 294.9 633.7 295.2 633.5 295.4 633.3 295.7 633.8 295.9 633.3 296.2 633.6 296.4 633.3 296.7 632.6 296.9 633.5 297.2 633.6 297.4 633.8 297.7 633.1 297.9 633.5 298.2 633.7 298.4 633.6 298.7 634.0 298.9 634.3 299.2 633.1 299.4 632.7 299.7 633.8 299.9 634.1 300.2 633.9 300.4 633.8 300.7 633.2 300.9 633.2 301.2 633.8 301.4 633.1 301.7 632.8 301.9 633.1 302.2 634.5 302.4 634.2 302.7 633.2 302.9 633.2 303.2 633.6 303.4 633.2 303.7 634.0 303.9 633.4 304.2 633.0 304.4 634.0 304.7 633.2 304.9 633.6 305.2 633.5 305.4 633.3 305.7 633.6 305.9 633.2 306.2 632.7 306.4 632.6 306.7 633.0 306.9 633.2 307.2 633.5 307.4 633.5 307.7 633.7 307.9 633.5 308.2 633.1 308.4 633.2 308.7 632.6 308.9 633.4 309.2 633.6 309.4 633.7 309.7 633.4 309.9 633.4 310.2 633.8 310.4 633.5 310.7 633.7 310.9 633.7 311.2 633.5 311.4 634.0 311.7 633.2 311.9 633.3 312.2 633.1 312.4 633.1 312.7 634.1 312.9 634.1 313.2 633.5 313.4 633.7 313.7 633.9 313.9 633.8 314.2 633.9 314.4 632.9 314.7 633.2 314.9 633.6 315.2 634.0 315.4 633.5 315.7 633.1 315.9 633.3 316.2 633.2 316.4 633.1 316.7 634.0 316.9 633.2 317.2 633.4 317.4 634.3 317.7 633.9 317.9 633.6 318.2 633.2 318.4 633.6 318.7 634.1 318.9 633.7 319.2 633.9 319.4 633.5 319.7 633.6 319.9 633.3 320.2 633.6 320.4 633.9 320.7 632.8 320.9 633.4 321.2 633.5 321.4 633.2 321.7 633.3 321.9 633.7 322.2 634.2 322.4 633.7 322.7 633.5 322.9 632.8 323.2 634.2 323.4 633.4 323.7 633.4 323.9 633.0 324.2 633.4 324.4 633.0 324.7 633.4 324.9 633.6 325.2 633.4 325.4 633.5 325.7 633.1 325.9 634.0 326.2 633.1 326.4 632.7 326.7 633.3 326.9 633.1 327.2 633.0 327.4 633.3 327.7 633.5 327.9 632.9 328.2 633.3 328.4 634.0 328.7 633.7 328.9 633.3 329.2 633.4 329.4 633.3 329.7 633.4 329.9 633.7 330.2 633.4 330.4 632.4 330.7 633.4 330.9 633.0 331.2 633.7 331.4 633.1 331.7 633.5 331.9 634.3 332.2 633.0 332.4 632.9 332.7 632.8 332.9 632.4 333.2 632.6 333.4 633.5 333.7 633.1 333.9 632.6 334.2 632.8 334.4 633.6 334.7 633.1 334.9 633.2 335.2 633.5 335.4 633.9 335.7 634.2 335.9 633.8 336.2 633.4 336.4 633.5 336.7 634.1 336.9 634.0 337.2 633.3 337.4 633.6 337.7 633.5 337.9 633.4 338.2 633.2 338.4 632.8 338.7 633.2 338.9 632.8 339.2 633.9 339.4 633.6 339.7 632.9 339.9 633.9 340.2 633.7 340.4 632.6 340.7 634.1 340.9 633.7 341.2 634.2 341.4 632.9 341.7 633.6 341.9 633.5 342.2 633.4 342.4 633.4 342.7 633.8 342.9 632.8 343.2 632.9 343.4 632.8 343.7 633.1 343.9 633.1 344.2 633.5 344.4 633.5 344.7 633.4 344.9 633.1 345.2 633.2 345.4 633.7 345.7 633.7 345.9 633.4 346.2 633.2 346.4 634.0 346.7 633.1 346.9 633.6 347.2 633.8 347.4 633.2 347.7 633.7 347.9 632.9 348.2 633.8 348.4 633.4 348.7 632.7 348.9 633.6 349.2 633.0 349.4 633.9 349.7 633.1 349.9 633.3 350.2 633.5 350.4 633.2 350.7 633.5 350.9 633.1 351.2 633.6 351.4 633.3 351.7 633.4 351.9 632.2 352.2 633.8 352.4 633.4 352.7 632.6 352.9 633.4 353.2 633.5 353.4 633.8 353.7 632.9 353.9 634.0 354.2 633.3 354.4 634.3 354.7 633.3 354.9 633.6 355.2 633.2 355.4 632.9 355.7 633.8 355.9 633.7 356.2 634.0 356.4 633.7 356.7 633.1 356.9 632.7 357.2 633.1 357.4 633.1 357.7 633.0 357.9 633.6 358.2 633.5 358.4 633.2 358.7 633.4 358.9 633.3 359.2 633.4 359.4 633.6 359.7 633.7 359.9 633.1 360.2 632.7 360.4 633.9 360.7 633.4 360.9 633.8 361.2 632.7 361.4 633.2 361.7 633.3 361.9 632.8 362.2 633.1 362.4 633.6 362.7 633.8 362.9 634.0 363.2 633.0 363.4 632.8 363.7 633.5 363.9 633.7 364.2 633.4 364.4 632.8 364.7 633.6 364.9 633.6 365.2 633.5 365.4 633.1 365.7 633.4 365.9 633.6 366.2 633.1 366.4 632.6 366.7 633.5 366.9 633.5 367.2 633.3 367.4 633.7 367.7 633.1 367.9 633.3 368.2 633.2 368.4 633.5 368.7 634.0 368.9 633.2 369.2 634.1 369.4 633.9 369.7 633.6 369.9 633.5 370.2 634.0 370.4 633.2 370.7 633.3 370.9 632.9 371.2 633.5 371.4 633.8 371.7 633.5 371.9 633.5 372.2 633.2 372.4 633.4 372.7 632.7 372.9 633.7 373.2 633.1 373.4 632.9 373.7 633.0 373.9 633.0 374.2 633.6 374.4 633.7 374.7 632.8 374.9 633.7 375.2 633.7 375.4 633.1 375.7 632.7 375.9 633.0 376.2 633.1 376.4 633.4 376.7 633.2 376.9 632.5 377.2 633.4 377.4 632.7 377.7 633.7 377.9 632.8 378.2 633.0 378.4 633.0 378.7 633.1 378.9 633.8 379.2 633.6 379.4 633.5 379.7 633.4 379.9 632.7 380.2 633.1 380.4 633.1 380.7 632.9 380.9 633.5 381.2 633.0 381.4 633.0 381.7 632.9 381.9 632.5 382.2 633.5 382.4 633.8 382.7 633.4 382.9 632.9 383.2 632.2 383.4 633.4 383.7 633.8 383.9 633.4 384.2 633.7 384.4 633.9 384.7 633.7 384.9 633.1 385.2 633.7 385.4 633.6 385.7 632.7 385.9 633.1 386.2 632.7 386.4 633.2 386.7 633.5 386.9 632.9 387.2 632.5 387.4 633.8 387.7 633.4 387.9 633.9 388.2 632.8 388.4 633.7 388.7 634.1 388.9 634.1 389.2 633.2 389.4 633.4 389.7 633.2 389.9 633.7 390.2 633.7 390.4 633.3 390.7 632.7 390.9 633.6 391.2 633.1 391.4 633.5 391.7 633.4 391.9 633.9 392.2 633.7 392.4 633.1 392.7 633.4 392.9 634.0 393.2 633.1 393.4 633.5 393.7 633.8 393.9 633.8 394.2 633.5 394.4 632.8 394.7 632.8 394.9 633.4 395.2 633.4 395.4 634.3 395.7 632.9 395.9 633.7 396.2 633.6 396.4 632.6 396.7 632.9 396.9 633.3 397.2 633.1 397.4 633.2 397.7 633.5 397.9 633.0 398.2 633.5 398.4 633.0 398.7 633.1 398.9 633.5 399.2 633.0 399.4 633.4 399.7 633.9 399.9 633.3 400.2 633.2 400.4 633.6 400.7 633.1 400.9 633.7 401.2 632.8 401.4 633.5 401.7 633.1 401.9 633.0 402.2 634.0 402.4 632.9 402.7 634.0 402.9 633.5 403.2 633.8 403.4 632.9 403.7 633.7 403.9 633.9 404.2 633.2 404.4 633.2 404.7 634.2 404.9 633.3 405.2 633.1 405.4 633.0 405.7 633.4 405.9 633.4 406.2 633.3 406.4 634.0 406.7 633.1 406.9 633.5 407.2 633.8 407.4 632.9 407.7 633.7 407.9 634.0 408.2 632.7 408.4 632.8 408.7 632.8 408.9 632.5 409.2 633.4 409.4 632.5 409.7 633.5 409.9 633.8 410.2 632.6 410.4 633.1 410.7 632.5 410.9 633.6 411.2 633.0 411.4 633.2 411.7 633.3 411.9 633.5 412.2 633.1 412.4 633.3 412.7 633.0 412.9 633.3 413.2 632.8 413.4 633.3 413.7 632.5 413.9 633.1 414.2 634.0 414.4 633.3 414.7 632.8 414.9 633.4 415.2 632.9 415.4 632.6 415.7 633.0 415.9 633.6 416.2 633.4 416.4 633.2 416.7 632.9 416.9 632.8 417.2 633.8 417.4 633.4 417.7 632.9 417.9 632.4 418.2 632.7 418.4 634.2 418.7 632.8 418.9 633.2 419.2 633.3 419.4 633.2 419.7 633.1 419.9 632.7 420.2 632.8 420.4 633.9 420.7 632.9 420.9 633.6 421.2 632.6 421.4 633.1 421.7 633.4 421.9 633.7 422.2 632.8 422.4 633.5 422.7 633.4 422.9 633.0 423.2 633.4 423.4 632.9 423.7 632.9 423.9 633.2 424.2 632.2 424.4 633.2 424.7 632.8 424.9 632.7 425.2 633.1 425.4 633.6 425.7 633.1 425.9 633.8 426.2 632.8 426.4 632.7 426.7 633.9 426.9 633.4 427.2 633.6 427.4 632.9 427.7 633.6 427.9 633.3 428.2 633.5 428.4 633.3 428.7 633.7 428.9 633.0 429.2 632.9 429.4 632.7 429.7 633.7 429.9 632.9 430.2 632.8 430.4 632.9 430.7 633.1 430.9 632.7 431.2 633.1 431.4 633.0 431.7 633.0 431.9 632.9 432.2 633.3 432.4 633.1 432.7 633.3 432.9 633.3 433.2 633.4 433.4 632.4 433.7 633.0 433.9 632.9 434.2 633.5 434.4 632.6 434.7 633.0 434.9 633.1 435.2 633.1 435.4 633.6 435.7 633.1 435.9 633.6 436.2 632.7 436.4 632.5 436.7 633.7 436.9 633.4 437.2 633.4 437.4 633.3 437.7 633.4 437.9 632.8 438.2 633.6 438.4 633.0 438.7 633.6 438.9 633.3 439.2 632.4 439.4 632.7 439.7 633.7 439.9 633.2 440.2 633.1 440.4 633.3 440.7 633.1 440.9 633.0 441.2 633.3 441.4 633.3 441.7 633.8 441.9 633.3 442.2 634.0 442.4 634.0 442.7 633.9 442.9 633.7 443.2 633.3 443.4 633.3 443.7 633.2 443.9 632.9 444.2 633.2 444.4 633.0 444.7 633.9 444.9 633.4 445.2 633.1 445.4 632.5 445.7 633.2 445.9 633.1 446.2 632.8 446.4 632.8 446.7 632.3 446.9 633.5 447.2 633.2 447.4 634.3 447.7 633.2 447.9 633.2 448.2 633.8 448.4 633.3 448.7 633.3 448.9 633.1 449.2 633.0 449.4 633.8 449.7 633.6 449.9 633.9 450.2 633.1 450.4 633.2 450.7 632.9 450.9 633.6 451.2 632.7 451.4 633.5 451.7 633.7 451.9 633.8 452.2 632.9 452.4 633.7 452.7 632.9 452.9 632.9 453.2 632.7 453.4 633.7 453.7 633.9 453.9 633.0 454.2 632.9 454.4 633.1 454.7 634.2 454.9 633.6 455.2 633.0 455.4 632.5 455.7 633.0 455.9 633.7 456.2 634.0 456.4 633.1 456.7 632.9 456.9 633.0 457.2 632.5 457.4 633.6 457.7 632.8 457.9 633.6 458.2 632.5 458.4 632.7 458.7 633.3 458.9 632.9 459.2 633.5 459.4 633.2 459.7 632.8 459.9 633.5 460.2 633.6 460.4 632.5 460.7 634.0 460.9 633.4 461.2 633.5 461.4 632.5 461.7 632.9 461.9 633.1 462.2 633.7 462.4 632.6 462.7 632.9 462.9 632.4 463.2 633.1 463.4 633.4 463.7 632.5 463.9 633.0 464.2 633.4 464.4 633.9 464.7 633.5 464.9 633.1 465.2 632.7 465.4 632.8 465.7 633.0 465.9 633.3 466.2 633.2 466.4 633.9 466.7 633.3 466.9 632.8 467.2 633.8 467.4 633.6 467.7 633.3 467.9 632.9 468.2 632.5 468.4 632.8 468.7 633.6 468.9 632.9 469.2 632.7 469.4 633.3" fill="none" stroke="#c8282e" stroke-width="0.95"/>
<line x1="317.00" y1="566.40" x2="334.00" y2="566.40" stroke="#5aa0d8" stroke-width="1" />
<line x1="317.00" y1="584.00" x2="334.00" y2="584.00" stroke="#e07a7a" stroke-width="1" />
<text x="334.5" y="568.5" font-size="12" fill="#333333" textLength="125" lengthAdjust="spacingAndGlyphs">0.7 ppm NH<tspan font-size="8" dy="3">3</tspan><tspan dy="-3">, 16.7% RH</tspan></text>
<text x="339.4" y="587" font-size="12" fill="#333333" textLength="120.4" lengthAdjust="spacingAndGlyphs">10 ppm NH<tspan font-size="8" dy="3">3</tspan><tspan dy="-3">,&#160;&#160; 2.1% RH</tspan></text>
<path d="M145.10 578.20L158.61 586.00L158.61 601.60L145.10 609.40L131.59 601.60L131.59 586.00Z" fill="none" stroke="#333" stroke-width="1.1"/>
<line x1="156.45" y1="588.56" x2="156.45" y2="599.04" stroke="#333" stroke-width="1.1"/>
<line x1="143.97" y1="606.25" x2="134.89" y2="601.01" stroke="#333" stroke-width="1.1"/>
<line x1="134.89" y1="586.59" x2="143.97" y2="581.35" stroke="#333" stroke-width="1.1"/>
<line x1="158.61" y1="601.60" x2="172.80" y2="610.20" stroke="#333" stroke-width="1.1" />
<line x1="172.80" y1="610.20" x2="182.50" y2="604.50" stroke="#333" stroke-width="1.0" />
<line x1="172.00" y1="608.60" x2="181.70" y2="602.90" stroke="#333" stroke-width="1.0" />
<text x="185.40" y="605.60" font-size="10.5" text-anchor="middle" fill="#222" font-weight="normal" stroke="#222" stroke-width="0.25">O</text>
<text x="191.80" y="601.50" font-size="8" text-anchor="middle" fill="#222" font-weight="normal" >+</text>
<line x1="189.50" y1="604.20" x2="195.40" y2="607.60" stroke="#333" stroke-width="1.0" />
<text x="198.60" y="613.90" font-size="10.5" text-anchor="middle" fill="#222" font-weight="normal" stroke="#222" stroke-width="0.25">O</text>
<text x="204.00" y="610.00" font-size="9" text-anchor="middle" fill="#222" font-weight="normal" >-</text>
<path d="M237.30 548.50L250.46 556.10L250.46 571.30L237.30 578.90L224.14 571.30L224.14 556.10Z" fill="none" stroke="#333" stroke-width="1.1"/>
<line x1="248.36" y1="558.59" x2="248.36" y2="568.81" stroke="#333" stroke-width="1.1"/>
<line x1="236.19" y1="575.83" x2="227.35" y2="570.72" stroke="#333" stroke-width="1.1"/>
<line x1="227.35" y1="556.68" x2="236.19" y2="551.57" stroke="#333" stroke-width="1.1"/>
<line x1="250.46" y1="556.10" x2="262.60" y2="548.70" stroke="#333" stroke-width="1.1" />
<line x1="261.60" y1="548.70" x2="261.60" y2="538.00" stroke="#333" stroke-width="1.0" />
<line x1="263.60" y1="548.70" x2="263.60" y2="538.00" stroke="#333" stroke-width="1.0" />
<text x="262.60" y="537.60" font-size="9.5" text-anchor="middle" fill="#222" font-weight="normal" stroke="#222" stroke-width="0.2">O</text>
<line x1="262.60" y1="548.70" x2="268.60" y2="552.50" stroke="#333" stroke-width="1.0" />
<text x="275.00" y="560.40" font-size="9.5" text-anchor="middle" fill="#222" font-weight="normal" textLength="12.5" lengthAdjust="spacingAndGlyphs" stroke="#222" stroke-width="0.2">OH</text>
<path d="M194.2 588.6L214.8 572.2M207.6 573.0L214.8 572.2L211.6 578.6" fill="none" stroke="#8c8c8c" stroke-width="1.2"/>
<text x="0" y="0" font-size="12" font-weight="bold" fill="#222" transform="translate(197.4,577.3) rotate(-38)" text-anchor="middle">H<tspan font-size="8" dy="3">2</tspan><tspan dy="-3">O</tspan></text>
<path d="M209.4 612 Q236 636 266 611.6M259.2 612.3L266 611.6L263.5 617.5" fill="none" stroke="#8c8c8c" stroke-width="1.2"/>
<text x="227" y="611" font-size="11.5" font-weight="bold" fill="#222">NH<tspan font-size="8" dy="3">3</tspan></text>
<circle cx="282.6" cy="604" r="15.4" fill="none" stroke="#777" stroke-width="0.9" stroke-dasharray="2 2"/>
<text x="282.60" y="609.80" font-size="15" text-anchor="middle" fill="#111" font-weight="normal" stroke="#111" stroke-width="0.5">?</text>
</svg></body></html>
